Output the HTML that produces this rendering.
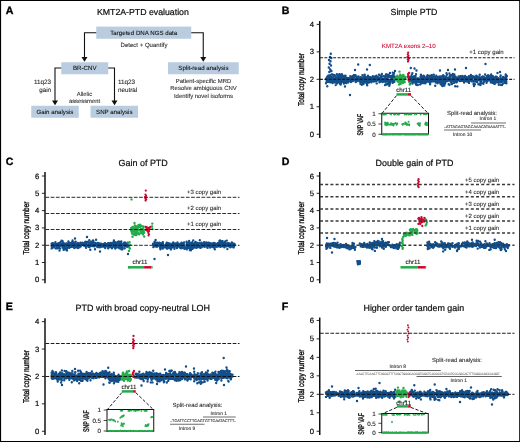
<!DOCTYPE html>
<html lang="en">
<head>
<meta charset="utf-8">
<title>KMT2A-PTD evaluation</title>
<style>
html,body{margin:0;padding:0;background:#fff;}
body{width:520px;height:442px;overflow:hidden;font-family:"Liberation Sans",sans-serif;}
svg{display:block;}
text{font-family:"Liberation Sans",sans-serif;text-rendering:geometricPrecision;}
</style>
</head>
<body>
<svg width="520" height="442" viewBox="0 0 520 442" font-family="'Liberation Sans', sans-serif">
<rect x="0" y="0" width="520" height="442" fill="#fff"/>
<text x="5.8" y="14.15" font-size="10.6" fill="#000" font-weight="bold" stroke="#000" stroke-width="0.35">A</text>
<text x="142.9" y="14.6" font-size="8.75" text-anchor="middle" fill="#0d0d0d" stroke="#0d0d0d" stroke-width="0.2">KMT2A-PTD evaluation</text>
<rect x="96.25" y="26.6" width="95" height="12.15" fill="#bacde0"/>
<text x="143.75" y="34.88" font-size="6.15" text-anchor="middle" fill="#111" stroke="#111" stroke-width="0.08">Targeted DNA NGS data</text>
<rect x="61.25" y="62.25" width="47" height="12" fill="#bacde0"/>
<text x="84.75" y="70.45" font-size="6.15" text-anchor="middle" fill="#111" stroke="#111" stroke-width="0.08">BR-CNV</text>
<rect x="168" y="62.25" width="70.75" height="12" fill="#bacde0"/>
<text x="203.38" y="70.45" font-size="6.15" text-anchor="middle" fill="#111" stroke="#111" stroke-width="0.08">Split-read analysis</text>
<rect x="31.25" y="105.75" width="47.5" height="12" fill="#bacde0"/>
<text x="55" y="113.95" font-size="6.15" text-anchor="middle" fill="#111" stroke="#111" stroke-width="0.08">Gain analysis</text>
<rect x="90.5" y="105.75" width="47.5" height="12" fill="#bacde0"/>
<text x="114.25" y="113.95" font-size="6.15" text-anchor="middle" fill="#111" stroke="#111" stroke-width="0.08">SNP analysis</text>
<path d="M96.25,32.75 H84.5 V58.75" fill="none" stroke="#111" stroke-width="1.1"/>
<path d="M81.5,56.95 L87.5,56.95 L84.5,61.75 Z" fill="#111"/>
<path d="M191.25,32.75 H203.25 V58.75" fill="none" stroke="#111" stroke-width="1.1"/>
<path d="M200.25,56.95 L206.25,56.95 L203.25,61.75 Z" fill="#111"/>
<path d="M61.25,68 H55 V102.25" fill="none" stroke="#111" stroke-width="1.1"/>
<path d="M52,100.45 L58,100.45 L55,105.25 Z" fill="#111"/>
<path d="M108.25,68 H114.5 V102.25" fill="none" stroke="#111" stroke-width="1.1"/>
<path d="M111.5,100.45 L117.5,100.45 L114.5,105.25 Z" fill="#111"/>
<text x="144" y="47" font-size="6.05" text-anchor="middle" fill="#2a2a2a" stroke="#2a2a2a" stroke-width="0.08">Detect + Quantify</text>
<text x="203.5" y="82.5" font-size="5.95" text-anchor="middle" fill="#2a2a2a" stroke="#2a2a2a" stroke-width="0.08">Patient-specific MRD</text>
<text x="203.5" y="90" font-size="5.95" text-anchor="middle" fill="#2a2a2a" stroke="#2a2a2a" stroke-width="0.08">Resolve ambiguous CNV</text>
<text x="203.5" y="97.5" font-size="5.95" text-anchor="middle" fill="#2a2a2a" stroke="#2a2a2a" stroke-width="0.08">Identify novel isoforms</text>
<text x="51.1" y="84.3" font-size="6.3" text-anchor="end" fill="#1a1a1a" stroke="#1a1a1a" stroke-width="0.08">11q23</text>
<text x="51.1" y="91.8" font-size="6.3" text-anchor="end" fill="#1a1a1a" stroke="#1a1a1a" stroke-width="0.08">gain</text>
<text x="118" y="84.3" font-size="6.3" fill="#1a1a1a" stroke="#1a1a1a" stroke-width="0.08">11q23</text>
<text x="118" y="91.8" font-size="6.3" fill="#1a1a1a" stroke="#1a1a1a" stroke-width="0.08">neutral</text>
<text x="84.5" y="95.5" font-size="5.85" text-anchor="middle" fill="#2a2a2a" stroke="#2a2a2a" stroke-width="0.08">Allelic</text>
<text x="84.5" y="103" font-size="5.85" text-anchor="middle" fill="#2a2a2a" stroke="#2a2a2a" stroke-width="0.08">assessment</text>
<text x="281.8" y="14.15" font-size="10.6" fill="#000" font-weight="bold" stroke="#000" stroke-width="0.35">B</text>
<text x="414" y="14.6" font-size="8.8" text-anchor="middle" fill="#0d0d0d" stroke="#0d0d0d" stroke-width="0.2">Simple PTD</text>
<line x1="319.75" y1="21" x2="319.75" y2="138" stroke="#0a0a0a" stroke-width="1.45"/>
<line x1="316.65" y1="134.25" x2="319.75" y2="134.25" stroke="#111" stroke-width="0.9"/>
<text x="314.15" y="136.75" font-size="7.7" text-anchor="end" fill="#000" stroke="#000" stroke-width="0.18">0</text>
<line x1="316.65" y1="106.78" x2="319.75" y2="106.78" stroke="#111" stroke-width="0.9"/>
<text x="314.15" y="109.28" font-size="7.7" text-anchor="end" fill="#000" stroke="#000" stroke-width="0.18">1</text>
<line x1="316.65" y1="79.31" x2="319.75" y2="79.31" stroke="#111" stroke-width="0.9"/>
<text x="314.15" y="81.81" font-size="7.7" text-anchor="end" fill="#000" stroke="#000" stroke-width="0.18">2</text>
<line x1="316.65" y1="51.84" x2="319.75" y2="51.84" stroke="#111" stroke-width="0.9"/>
<text x="314.15" y="54.34" font-size="7.7" text-anchor="end" fill="#000" stroke="#000" stroke-width="0.18">3</text>
<line x1="316.65" y1="24.37" x2="319.75" y2="24.37" stroke="#111" stroke-width="0.9"/>
<text x="314.15" y="26.87" font-size="7.7" text-anchor="end" fill="#000" stroke="#000" stroke-width="0.18">4</text>
<text transform="translate(303.6,79.5) rotate(-90) scale(0.76,1)" font-size="8.5" text-anchor="middle" fill="#0a0a0a" stroke="#0a0a0a" stroke-width="0.36">Total copy number</text>
<path d="M361.0 80.4h0M369.5 81.3h0M332.5 83.0h0M373.8 81.5h0M393.8 77.3h0M336.9 74.3h0M362.5 80.6h0M328.1 81.4h0M356.4 76.5h0M360.5 79.1h0M357.6 78.9h0M384.0 78.7h0M345.9 81.0h0M378.9 80.0h0M392.1 77.2h0M326.0 83.3h0M393.6 77.6h0M331.0 79.9h0M332.0 77.6h0M392.5 80.0h0M333.0 81.4h0M381.0 75.5h0M339.2 78.0h0M335.0 80.8h0M340.7 81.2h0M393.0 77.4h0M340.5 82.5h0M385.0 85.1h0M340.7 84.6h0M379.3 78.8h0M332.2 80.3h0M342.8 77.9h0M392.2 80.6h0M365.6 80.4h0M388.7 80.5h0M343.2 78.8h0M339.6 74.3h0M386.9 78.4h0M328.7 80.4h0M342.5 79.0h0M367.2 85.2h0M338.1 80.1h0M364.6 80.5h0M368.4 81.4h0M327.1 78.7h0M356.8 80.4h0M365.5 82.6h0M351.0 81.2h0M373.7 78.9h0M335.7 79.9h0M374.4 81.0h0M359.3 79.6h0M348.0 80.9h0M376.9 79.8h0M376.9 79.8h0M350.3 76.3h0M388.2 75.6h0M385.6 81.5h0M369.1 78.1h0M331.5 77.9h0M394.5 78.5h0M376.7 77.4h0M356.4 81.5h0M328.1 81.7h0M359.2 78.0h0M368.4 78.3h0M343.7 78.0h0M340.0 83.7h0M388.5 74.6h0M348.6 80.4h0M339.7 80.3h0M386.7 74.4h0M366.2 81.2h0M383.8 81.4h0M375.1 78.8h0M357.1 80.9h0M340.8 77.5h0M347.8 78.3h0M393.8 79.3h0M386.2 79.9h0M374.9 78.1h0M327.3 86.2h0M357.4 80.2h0M335.7 76.2h0M369.4 78.4h0M381.7 77.0h0M373.2 77.7h0M326.7 80.2h0M375.3 78.6h0M374.1 80.3h0M368.4 77.8h0M388.5 83.9h0M390.3 80.8h0M369.2 80.9h0M352.0 81.0h0M391.2 76.3h0M370.9 78.7h0M370.3 77.1h0M340.7 83.8h0M363.1 79.2h0M348.1 80.1h0M331.7 77.7h0M364.0 79.5h0M381.8 79.3h0M381.2 75.9h0M335.7 85.1h0M361.6 81.1h0M391.3 76.1h0M391.5 79.8h0M346.0 81.0h0M370.1 80.7h0M347.5 78.0h0M384.3 80.6h0M392.8 82.7h0M365.5 76.6h0M367.8 79.2h0M392.9 75.8h0M364.8 81.8h0M373.7 76.7h0M392.0 78.4h0M344.6 80.4h0M382.3 80.9h0M358.9 80.1h0M389.8 84.5h0M379.8 79.9h0M373.4 80.1h0M350.5 81.0h0M334.5 81.4h0M343.3 76.3h0M351.9 78.8h0M362.5 81.1h0M370.1 81.6h0M384.7 80.4h0M377.1 78.0h0M388.3 77.1h0M341.1 82.6h0M387.2 79.8h0M343.9 83.5h0M383.4 79.6h0M353.8 78.2h0M327.2 76.6h0M392.8 72.6h0M360.7 79.3h0M339.0 79.6h0M364.1 80.2h0M365.2 80.8h0M384.0 80.8h0M390.0 83.0h0M357.9 78.1h0M361.6 81.4h0M367.5 78.4h0M338.5 75.0h0M377.0 79.2h0M361.4 81.5h0M387.6 78.0h0M369.4 77.1h0M367.4 82.7h0M343.8 79.0h0M377.4 79.6h0M387.9 77.1h0M373.9 79.2h0M375.9 76.2h0M349.6 80.6h0M370.1 79.8h0M342.0 78.3h0M371.5 78.4h0M362.8 82.4h0M374.4 79.0h0M393.6 74.4h0M343.7 77.6h0M329.5 78.5h0M343.3 79.7h0M364.0 82.1h0M394.7 78.3h0M381.9 74.0h0M329.1 77.7h0M337.0 80.0h0M368.2 82.6h0M391.2 76.0h0M351.2 78.6h0M371.2 79.1h0M346.4 83.1h0M342.9 81.8h0M352.9 81.1h0M377.6 78.4h0M331.1 77.1h0M393.1 80.6h0M362.1 79.3h0M393.5 76.6h0M367.7 77.8h0M340.1 76.3h0M362.4 75.1h0M357.4 80.7h0M366.2 80.4h0M394.8 76.6h0M376.7 83.4h0M380.1 81.7h0M350.8 77.9h0M366.8 78.1h0M378.0 79.0h0M389.2 85.7h0M328.7 79.3h0M369.0 82.5h0M363.4 84.0h0M364.0 81.3h0M351.7 79.5h0M377.4 80.4h0M331.1 81.7h0M379.0 74.8h0M355.3 80.0h0M371.1 78.3h0M348.5 79.3h0M355.5 75.1h0M332.7 80.2h0M364.9 80.3h0M373.3 79.3h0M340.7 78.2h0M331.6 78.9h0M345.5 75.6h0M350.7 78.8h0M374.9 79.5h0M389.4 81.3h0M381.4 78.0h0M347.9 81.9h0M343.1 77.9h0M351.2 78.1h0M339.5 80.0h0M381.0 80.5h0M338.2 76.5h0M386.8 84.5h0M363.5 80.2h0M392.7 79.1h0M363.7 79.3h0M331.8 78.7h0M331.8 74.4h0M335.9 77.9h0M341.2 77.9h0M362.0 78.3h0M392.8 80.0h0M360.1 78.8h0M389.1 75.6h0M383.0 81.7h0M383.5 76.1h0M392.1 75.6h0M381.4 78.7h0M355.0 78.4h0M351.9 79.9h0M346.1 80.7h0M330.1 82.2h0M379.5 82.2h0M330.3 75.3h0M328.5 75.5h0M338.7 79.3h0M367.0 84.4h0M338.8 81.6h0M347.5 81.3h0M382.4 79.0h0M389.1 84.1h0M363.8 78.6h0M329.4 80.0h0M381.3 76.8h0M344.9 79.0h0M371.4 82.2h0M351.6 79.2h0M375.2 79.4h0M348.2 80.5h0M386.0 74.5h0M344.4 75.9h0M336.4 83.0h0M384.4 79.4h0M331.7 79.1h0M359.1 78.4h0M391.9 80.1h0M380.5 77.8h0M389.3 80.5h0M363.5 78.8h0M336.9 78.1h0M331.2 81.4h0M358.2 77.3h0M333.3 82.0h0M357.9 80.4h0M326.9 77.4h0M375.0 76.4h0M326.7 79.1h0M381.2 76.9h0M351.9 78.3h0M346.6 77.9h0M343.7 81.7h0M376.5 80.8h0M375.9 78.3h0M383.1 80.4h0M372.8 79.7h0M338.4 80.2h0M332.2 74.5h0M336.8 77.5h0M389.5 79.6h0M361.3 79.9h0M352.6 76.3h0M354.4 75.3h0M393.8 80.6h0M371.6 80.6h0M349.6 79.4h0M333.3 75.0h0M382.9 79.1h0M336.9 81.1h0M350.3 78.3h0M335.8 81.6h0M375.4 78.8h0M339.6 77.9h0M331.7 77.4h0M365.8 78.2h0M350.9 82.0h0M334.6 82.4h0M363.5 82.8h0M364.7 74.8h0M382.4 82.1h0M345.9 81.1h0M342.6 79.6h0M363.8 78.1h0M328.2 79.2h0M371.4 78.4h0M352.3 77.0h0M381.5 80.5h0M335.9 81.3h0M365.3 77.7h0M365.2 79.8h0M370.3 79.0h0M392.2 77.8h0M358.4 77.1h0M378.3 77.1h0M359.5 81.2h0M354.2 76.3h0M365.1 77.9h0M355.8 78.6h0M348.1 78.6h0M376.5 75.7h0M377.9 78.4h0M334.6 78.5h0M360.7 82.2h0M362.3 81.3h0M347.1 79.5h0M388.9 80.1h0M371.9 77.2h0M341.3 80.5h0M365.1 82.4h0M334.5 81.4h0M391.6 79.1h0M348.4 81.4h0M387.8 77.5h0M366.4 81.6h0M328.1 79.0h0M390.4 81.5h0M358.6 77.0h0M387.9 81.4h0M358.6 76.5h0M386.7 80.4h0M339.2 81.5h0M329.5 79.3h0M388.1 77.2h0M375.2 76.9h0M356.7 79.4h0M375.0 81.2h0M338.5 75.5h0M351.7 76.9h0M387.0 79.6h0M389.9 81.0h0M345.1 82.7h0M356.4 81.6h0M362.6 77.6h0M343.3 78.5h0M332.0 79.5h0M345.3 78.3h0M338.9 79.3h0M357.9 79.0h0M352.5 78.1h0M364.4 79.9h0M350.8 79.6h0M360.9 77.3h0M373.2 80.0h0M379.8 78.4h0M368.0 75.6h0M380.3 80.3h0M342.3 79.5h0M360.4 83.8h0M367.2 77.2h0M338.4 75.5h0M327.2 77.9h0M344.1 79.9h0M331.0 76.9h0M380.6 77.3h0M336.1 80.7h0M368.9 80.2h0M344.3 81.6h0M337.8 82.5h0M337.0 80.7h0M330.2 76.1h0M351.1 79.9h0M359.8 79.2h0M394.0 73.3h0M328.7 81.7h0M387.4 76.5h0M355.3 80.5h0M328.4 80.2h0M341.9 74.2h0M364.1 81.7h0M351.1 81.1h0M328.7 79.5h0M370.8 77.5h0M385.6 82.4h0M387.2 75.7h0M352.3 80.8h0M340.9 79.8h0M337.3 83.3h0M340.8 78.2h0M394.5 80.7h0M385.5 78.2h0M373.7 79.5h0M344.9 80.1h0M353.1 80.1h0M375.3 78.0h0M390.6 80.0h0M378.8 79.3h0M348.2 79.2h0M331.7 77.6h0M361.8 84.7h0M353.2 80.5h0M367.1 80.4h0M347.5 78.7h0M374.8 78.6h0M376.1 79.5h0M345.3 80.1h0M354.0 79.7h0M346.2 78.7h0M340.9 83.4h0M365.0 80.3h0M393.3 74.9h0M340.9 75.5h0M372.0 80.0h0M369.6 78.4h0M355.5 80.5h0M348.6 79.8h0M345.3 77.1h0M337.5 80.2h0M342.5 77.5h0M336.4 80.8h0M374.4 79.0h0M353.0 78.7h0M330.3 82.2h0M366.4 80.6h0M348.5 81.5h0M387.5 79.7h0M344.1 79.9h0M368.5 81.4h0M351.0 81.4h0M369.3 78.9h0M354.4 78.5h0M386.7 83.8h0M388.8 82.6h0M347.3 80.6h0M393.4 79.7h0M372.9 80.9h0M326.1 78.8h0M360.1 80.2h0M363.8 76.8h0M392.8 77.4h0M349.9 78.5h0M374.0 81.1h0M392.5 80.4h0M359.9 81.5h0M351.5 79.1h0M342.4 75.5h0M348.4 78.2h0M330.4 79.5h0M333.1 81.2h0M379.3 80.3h0M337.2 79.3h0M343.5 78.9h0M381.0 78.8h0M375.4 77.9h0M349.0 80.7h0M365.2 77.3h0M374.8 80.3h0M334.6 75.3h0M372.2 79.5h0M366.4 80.3h0M393.0 77.4h0M369.6 78.4h0M390.4 82.5h0M334.2 81.1h0M345.7 80.1h0M348.8 79.3h0M363.4 78.8h0M381.2 80.4h0M345.6 77.7h0M393.7 76.5h0M373.9 79.3h0M338.1 76.8h0M390.4 77.0h0M348.3 79.5h0M365.0 78.3h0M341.7 78.1h0M351.2 80.0h0M387.6 79.6h0M331.4 81.0h0M340.0 76.9h0M381.7 79.4h0M330.0 78.0h0M345.1 77.7h0M385.7 75.2h0M376.0 80.7h0M327.8 81.1h0M350.8 79.6h0M347.4 80.3h0M392.2 79.1h0M362.4 80.5h0M353.5 76.5h0M383.1 80.3h0M391.6 78.9h0M374.7 79.5h0M365.8 79.7h0M352.8 77.5h0M351.2 77.0h0M350.4 81.0h0M332.5 78.2h0M377.2 78.8h0M372.9 76.2h0M333.3 76.5h0M326.7 81.7h0M353.8 75.2h0M340.1 77.8h0M348.1 82.4h0M355.7 82.1h0M341.2 78.7h0M344.9 78.5h0M391.4 79.8h0M394.3 81.8h0M369.8 79.1h0M368.5 79.1h0M385.1 76.4h0M333.9 79.0h0M447.0 74.6h0M459.7 77.9h0M470.7 76.8h0M500.3 76.7h0M455.2 79.6h0M481.3 78.0h0M448.7 84.2h0M457.4 86.4h0M491.4 81.9h0M487.3 78.1h0M506.4 83.3h0M433.9 77.3h0M453.8 80.5h0M436.8 78.6h0M416.7 80.2h0M433.1 77.3h0M492.9 76.2h0M487.2 77.4h0M445.2 83.0h0M493.8 80.1h0M420.9 74.7h0M469.7 80.8h0M416.5 80.4h0M495.0 82.3h0M428.7 78.5h0M442.6 79.6h0M470.9 74.9h0M427.1 76.1h0M477.1 80.0h0M501.3 80.6h0M444.4 85.5h0M481.3 79.3h0M439.8 81.0h0M450.9 81.8h0M449.4 73.5h0M443.3 79.2h0M432.4 78.1h0M437.4 82.5h0M475.5 80.9h0M482.0 78.7h0M453.2 76.8h0M452.5 80.3h0M438.1 78.9h0M449.6 76.3h0M496.8 77.0h0M489.5 79.7h0M467.1 81.5h0M418.1 82.1h0M446.0 78.1h0M497.0 78.3h0M411.8 78.0h0M454.8 80.1h0M474.9 84.2h0M506.3 77.9h0M490.3 77.7h0M416.0 74.2h0M448.6 80.6h0M429.9 83.0h0M423.4 79.4h0M425.8 78.3h0M470.2 78.7h0M480.8 82.3h0M421.2 83.5h0M501.6 80.1h0M411.9 77.6h0M420.3 79.3h0M438.9 81.0h0M422.1 82.7h0M459.4 80.3h0M449.9 76.0h0M430.7 77.2h0M492.4 78.4h0M492.4 82.8h0M449.1 78.6h0M493.7 79.5h0M424.5 79.4h0M481.1 80.4h0M412.3 81.9h0M438.8 77.4h0M414.0 77.2h0M417.1 85.1h0M441.6 82.4h0M473.3 81.3h0M458.3 79.3h0M448.0 78.9h0M445.4 77.5h0M456.0 78.0h0M414.3 80.2h0M415.5 78.1h0M431.2 77.9h0M445.8 77.5h0M482.6 79.3h0M410.4 79.4h0M467.4 78.8h0M445.1 77.9h0M468.9 79.8h0M440.2 76.5h0M414.7 79.1h0M434.1 79.7h0M493.4 78.0h0M437.4 83.2h0M490.6 81.3h0M440.4 80.2h0M415.0 77.4h0M414.2 76.2h0M471.8 76.5h0M500.6 79.6h0M481.3 79.3h0M475.8 79.9h0M485.7 78.8h0M482.8 77.7h0M421.0 80.4h0M481.1 83.4h0M474.5 81.5h0M420.5 76.7h0M464.1 82.5h0M430.1 75.9h0M421.5 78.9h0M455.6 76.8h0M475.3 80.0h0M457.6 77.8h0M419.8 81.9h0M425.7 79.5h0M425.5 80.7h0M467.2 77.4h0M491.6 80.6h0M466.4 80.2h0M477.5 79.0h0M435.0 78.1h0M415.8 79.1h0M446.3 76.2h0M464.1 80.1h0M498.2 78.4h0M482.9 79.4h0M439.4 82.1h0M464.9 79.7h0M442.0 85.4h0M488.1 77.8h0M485.9 79.9h0M469.0 82.2h0M484.1 81.7h0M476.7 76.9h0M502.2 78.4h0M480.4 85.0h0M433.8 77.1h0M438.1 78.9h0M422.3 79.4h0M436.6 80.5h0M494.7 83.9h0M468.9 76.3h0M481.1 77.4h0M485.1 74.5h0M414.8 77.8h0M432.3 80.6h0M445.6 81.8h0M464.7 78.6h0M432.1 81.3h0M473.6 84.1h0M497.4 78.2h0M505.9 78.6h0M494.5 79.2h0M412.4 78.9h0M505.3 81.6h0M460.3 76.3h0M460.9 77.5h0M458.2 79.5h0M478.2 78.7h0M457.0 80.0h0M504.3 80.6h0M442.2 80.8h0M501.0 84.9h0M493.2 78.5h0M411.5 77.5h0M469.2 77.4h0M500.5 78.5h0M412.6 83.6h0M411.8 74.8h0M490.4 77.4h0M483.3 78.9h0M409.6 80.9h0M490.8 75.5h0M442.2 83.0h0M435.1 79.3h0M460.8 79.1h0M432.4 77.4h0M426.6 78.9h0M485.9 80.5h0M432.7 78.7h0M434.4 80.7h0M427.5 78.0h0M480.3 80.8h0M486.6 80.9h0M433.3 80.8h0M449.9 77.6h0M498.3 81.5h0M447.2 81.0h0M442.5 76.0h0M446.5 73.3h0M455.9 78.2h0M410.8 78.9h0M498.7 81.0h0M429.5 82.0h0M442.8 78.2h0M423.3 80.6h0M422.7 79.2h0M495.5 81.9h0M445.8 77.8h0M436.1 80.1h0M443.4 80.5h0M439.4 82.3h0M462.2 80.8h0M483.8 79.7h0M431.2 78.3h0M439.7 81.4h0M425.1 78.2h0M464.9 81.0h0M454.3 74.5h0M492.0 80.7h0M504.8 79.5h0M414.6 76.7h0M426.4 79.1h0M430.9 78.9h0M458.2 79.0h0M411.0 79.4h0M413.6 77.6h0M455.6 78.6h0M440.4 81.3h0M450.2 77.1h0M454.4 80.9h0M500.7 78.9h0M495.5 79.3h0M437.6 79.0h0M466.4 77.1h0M501.9 85.0h0M443.3 81.3h0M458.0 78.4h0M409.7 79.1h0M435.7 78.1h0M418.3 78.4h0M456.5 81.3h0M452.7 78.8h0M487.5 81.0h0M434.3 76.8h0M458.6 76.4h0M457.3 78.6h0M437.8 78.0h0M428.7 78.7h0M490.8 82.4h0M476.3 78.8h0M478.9 79.8h0M488.9 78.3h0M433.3 80.5h0M443.0 79.8h0M469.0 80.9h0M415.8 78.7h0M420.2 80.9h0M427.6 77.8h0M483.4 78.6h0M480.4 78.3h0M494.1 80.5h0M465.0 76.4h0M471.8 77.6h0M411.7 80.8h0M487.1 76.7h0M477.2 76.8h0M440.3 81.4h0M476.4 81.8h0M441.7 80.9h0M502.3 78.5h0M503.3 78.4h0M460.4 80.8h0M413.0 77.8h0M482.1 78.6h0M428.9 78.8h0M416.3 82.4h0M444.1 82.4h0M449.9 78.1h0M432.4 79.4h0M451.7 79.0h0M483.8 77.0h0M497.5 73.0h0M462.3 78.7h0M484.2 78.8h0M424.2 78.9h0M480.4 82.0h0M484.3 78.7h0M451.7 75.0h0M455.8 80.3h0M416.4 79.1h0M477.2 80.7h0M465.4 80.2h0M448.8 77.7h0M414.0 77.6h0M422.0 79.0h0M416.6 79.8h0M455.2 86.2h0M456.9 79.0h0M440.3 80.7h0M431.0 79.5h0M459.1 77.4h0M434.6 80.7h0M478.5 78.2h0M453.7 81.2h0M470.3 77.8h0M453.9 82.9h0M495.3 77.0h0M504.7 82.7h0M448.6 79.0h0M480.1 78.0h0M473.4 76.5h0M431.5 79.5h0M462.1 78.5h0M411.1 81.0h0M484.2 77.8h0M448.3 78.0h0M428.7 80.6h0M489.6 79.8h0M447.6 78.2h0M482.3 76.8h0M434.0 77.3h0M505.7 77.1h0M485.6 78.5h0M436.3 75.7h0M461.0 80.8h0M496.6 82.4h0M437.7 78.6h0M468.6 79.2h0M461.2 76.6h0M443.9 77.0h0M416.8 78.8h0M490.3 77.2h0M436.2 78.9h0M446.0 79.1h0M424.0 82.3h0M433.8 74.8h0M421.0 81.3h0M435.3 76.9h0M477.3 82.1h0M430.1 76.0h0M477.7 80.3h0M455.7 78.9h0M452.6 76.7h0M505.7 76.7h0M431.2 80.8h0M442.8 83.8h0M451.5 82.2h0M426.2 77.7h0M478.4 84.2h0M431.6 76.8h0M431.8 80.8h0M415.6 80.4h0M462.5 79.9h0M443.9 79.7h0M468.0 79.5h0M411.5 79.5h0M426.7 76.6h0M440.9 77.0h0M437.7 78.5h0M433.8 80.8h0M434.9 77.8h0M435.7 82.4h0M492.0 78.1h0M496.0 79.8h0M470.2 78.0h0M449.8 76.6h0M458.7 78.1h0M486.4 78.7h0M431.3 78.5h0M487.1 79.3h0M437.3 83.0h0M476.2 76.7h0M482.1 77.7h0M495.3 81.3h0M498.9 81.5h0M504.2 80.1h0M459.7 81.1h0M506.1 75.3h0M506.3 81.4h0M471.9 81.4h0M464.3 77.1h0M467.2 79.9h0M426.4 81.0h0M430.6 77.4h0M462.5 77.9h0M411.2 77.7h0M473.5 84.1h0M442.1 81.0h0M464.0 78.1h0M488.9 78.3h0M483.4 83.7h0M423.2 80.8h0M412.4 73.1h0M440.8 80.9h0M490.2 76.9h0M500.7 75.4h0M464.4 79.7h0M479.2 77.3h0M457.8 80.0h0M499.0 81.8h0M415.9 79.9h0M491.8 80.6h0M505.0 77.6h0M479.4 78.2h0M415.2 78.1h0M414.3 81.7h0M505.3 78.5h0M467.3 79.6h0M427.1 76.1h0M464.6 79.2h0M428.0 81.6h0M412.8 81.7h0M455.1 77.4h0M483.7 77.6h0M414.5 80.1h0M413.2 80.6h0M495.0 80.3h0M492.0 79.7h0M498.8 82.5h0M428.1 80.3h0M429.1 79.1h0M461.7 80.4h0M424.1 77.6h0M455.7 79.7h0M469.5 78.5h0M496.1 80.2h0M447.7 80.3h0M446.9 78.7h0M445.8 79.8h0M437.2 78.9h0M482.6 78.2h0M427.6 75.3h0M492.7 82.9h0M481.7 82.1h0M444.8 84.0h0M465.8 78.3h0M506.9 75.9h0M423.5 75.6h0M464.5 79.4h0M470.8 77.7h0M441.0 80.3h0M493.1 81.2h0M435.1 78.8h0M492.3 77.8h0M463.8 79.4h0M409.7 79.2h0M436.3 78.9h0M479.3 78.6h0M456.4 82.4h0M450.5 74.9h0M448.3 79.0h0M476.3 75.6h0M485.8 79.5h0M425.3 83.3h0M449.9 78.5h0M475.3 76.8h0M415.2 82.7h0M489.9 79.5h0M462.9 79.1h0M472.1 80.0h0M431.9 79.2h0M461.3 80.5h0M468.3 78.3h0M474.9 80.0h0M495.7 76.6h0M475.5 77.4h0M437.5 78.2h0M410.5 78.1h0M435.2 77.4h0M415.2 79.4h0M468.7 81.6h0M437.8 79.2h0M458.8 77.2h0M456.7 82.3h0M456.3 80.4h0M448.5 79.1h0M475.6 81.3h0M468.2 80.1h0M452.8 74.0h0M430.3 82.7h0M495.9 80.6h0M496.3 80.8h0M415.8 80.1h0M468.5 81.8h0M500.7 82.3h0M420.1 84.4h0M473.1 81.6h0M429.6 75.9h0M468.3 77.7h0M429.8 81.8h0M416.7 82.0h0M440.7 78.7h0M497.6 82.4h0M423.1 80.1h0M502.1 79.6h0M440.5 83.8h0M482.0 78.5h0M477.4 81.0h0M454.7 81.5h0M490.1 79.6h0M472.3 78.1h0M504.5 80.3h0M422.0 77.5h0M484.6 78.0h0M495.0 77.6h0M446.0 81.1h0M445.2 78.0h0M492.1 80.6h0M475.4 77.2h0M434.0 80.2h0M419.3 81.2h0M446.4 77.5h0M423.4 80.1h0M434.3 78.6h0M431.5 77.7h0M429.2 81.1h0M450.9 79.1h0M471.8 78.4h0M441.3 80.5h0M486.7 79.3h0M411.0 78.3h0M412.9 78.6h0M444.0 76.2h0M494.1 82.8h0M421.8 81.7h0M419.0 82.1h0M449.5 84.7h0M497.0 79.9h0M483.4 76.7h0M474.8 80.1h0M461.2 77.6h0M476.7 79.1h0M486.4 79.6h0M414.1 80.3h0M503.0 77.0h0M464.5 80.3h0M485.4 80.4h0M409.6 77.3h0M418.6 81.1h0M484.5 79.5h0M474.5 77.9h0M454.6 79.4h0M475.4 80.7h0M461.5 80.4h0M409.8 79.8h0M425.0 77.7h0M504.8 79.5h0M500.9 81.6h0M432.0 79.3h0M498.2 81.4h0M433.0 79.7h0M479.7 77.7h0M455.1 80.6h0M453.9 79.2h0M464.8 77.0h0M413.9 79.2h0M417.3 80.1h0M501.4 81.7h0M445.4 79.6h0M422.9 80.5h0M426.7 76.4h0M411.0 79.5h0M486.6 82.7h0M427.9 79.1h0M439.0 76.7h0M444.1 79.8h0M488.5 78.0h0M468.1 79.7h0M506.2 78.1h0M488.0 78.2h0M491.3 80.8h0M429.4 79.9h0M414.4 77.1h0M438.0 81.4h0M489.4 78.0h0M433.4 78.3h0M415.6 81.4h0M449.7 76.7h0M437.9 81.6h0M475.3 77.4h0M435.8 79.3h0M438.4 80.0h0M456.4 80.4h0M495.2 77.7h0M411.8 80.3h0M486.1 77.8h0M482.7 79.3h0M486.8 80.6h0M475.2 77.3h0M461.5 77.2h0M493.2 78.7h0M482.8 76.6h0M414.3 77.6h0M446.1 80.7h0M423.6 81.5h0M457.2 78.7h0M410.2 83.7h0M481.0 79.6h0M417.4 78.4h0M480.8 82.6h0M412.8 78.7h0M442.5 86.0h0M421.6 76.8h0M436.2 80.2h0M449.5 80.5h0M451.9 84.1h0M498.0 78.2h0M431.8 75.2h0M468.6 79.3h0M506.2 80.0h0M429.9 78.7h0M491.5 79.5h0M486.2 80.0h0M435.2 85.8h0M479.4 78.5h0M482.3 78.1h0M460.7 79.8h0M441.1 82.6h0M430.1 84.2h0M503.1 83.5h0M492.2 78.1h0M464.8 78.7h0M491.2 74.4h0M415.5 76.2h0M506.1 79.4h0M475.4 78.6h0M471.9 75.9h0M497.3 80.8h0M429.5 77.1h0M475.9 79.4h0M448.3 79.4h0M431.6 75.3h0M498.5 81.7h0M411.5 77.6h0M469.3 77.1h0M442.6 78.8h0M475.9 78.7h0M474.6 80.8h0M488.7 75.9h0M454.3 75.8h0M493.6 78.1h0M444.9 82.1h0M505.6 76.3h0M492.6 81.3h0M497.0 79.9h0M410.6 76.8h0M448.0 78.4h0M439.3 78.8h0M421.6 76.7h0M442.6 81.2h0M428.6 78.8h0M438.9 79.8h0M437.9 78.2h0M461.6 79.4h0M443.6 82.1h0M477.8 76.6h0M494.0 80.6h0M482.4 79.5h0M506.0 80.6h0M470.4 80.6h0M422.6 78.1h0M505.1 79.0h0M416.3 79.6h0M439.0 80.7h0M440.7 84.3h0M496.2 76.6h0M434.2 80.5h0M416.9 81.9h0M502.0 78.5h0M409.6 77.7h0M415.4 80.4h0M453.0 75.4h0M477.7 78.2h0M475.6 78.3h0M441.6 76.5h0M465.9 77.9h0M437.5 79.2h0M443.6 78.4h0M409.6 79.8h0M482.8 78.8h0M425.4 78.5h0M469.2 80.1h0M432.2 78.2h0M423.9 76.0h0M445.4 79.3h0M440.1 78.7h0M412.4 79.2h0M494.7 79.1h0M476.5 78.0h0M480.4 83.7h0M498.8 84.8h0M462.3 76.0h0M416.0 84.5h0M413.6 79.1h0M444.2 80.7h0M451.8 78.8h0M461.6 78.8h0M452.6 79.1h0M433.3 81.4h0M486.8 76.3h0M479.2 78.7h0M477.2 80.6h0M436.9 81.0h0M418.2 79.3h0M421.3 80.0h0M492.3 76.0h0M426.1 82.2h0M501.3 81.9h0M417.6 79.8h0M468.6 80.5h0M422.8 82.7h0M467.4 79.7h0M422.9 76.2h0M423.5 83.1h0M476.0 79.9h0M457.1 81.5h0M488.1 75.2h0M443.2 79.8h0M505.7 74.4h0M451.5 83.0h0M495.5 79.3h0M436.0 81.2h0M502.4 81.0h0M423.7 81.3h0M417.3 80.6h0M489.2 80.0h0M452.5 76.0h0M486.4 78.4h0M454.2 80.7h0M421.2 78.1h0M490.2 79.5h0M494.0 80.5h0M491.4 80.3h0M472.5 80.1h0M451.6 79.8h0M501.5 79.6h0M464.0 79.8h0M500.2 80.1h0M412.3 79.5h0M494.4 83.9h0M433.5 79.0h0M498.4 79.4h0M437.7 81.5h0M434.7 77.7h0M443.2 75.3h0M466.3 77.6h0M420.6 77.5h0M469.0 82.9h0M423.3 81.4h0M436.1 81.7h0M490.9 78.2h0M468.4 77.3h0M441.1 77.8h0M465.1 76.0h0M479.7 74.7h0M412.2 76.9h0M462.8 80.6h0M468.6 77.9h0M463.4 76.6h0M421.5 83.2h0M438.1 76.9h0M460.0 81.0h0M417.8 84.9h0M436.7 79.7h0M460.5 80.8h0M472.2 77.4h0M469.2 76.4h0M454.7 80.4h0M466.6 81.3h0M469.6 78.9h0M445.8 77.3h0M330.8 53.8h0M330.0 57.0h0M331.3 58.0h0M329.0 60.0h0M330.5 61.3h0M329.5 63.8h0M331.0 65.5h0M328.8 67.5h0M330.2 69.5h0M329.3 72.0h0M331.4 71.0h0M350.0 95.0h0M358.2 64.5h0M369.8 65.0h0M367.0 69.5h0M485.5 64.0h0M410.8 68.0h0M414.5 68.5h0M416.5 70.5h0M448.0 70.0h0M466.0 68.0h0M455.0 69.5h0M500.0 72.0h0M345.0 86.5h0M474.0 86.0h0M440.0 70.5h0M355.0 70.0h0M395.0 71.0h0M390.0 73.0h0" fill="none" stroke="#124e8a" stroke-width="2.4" stroke-linecap="round"/>
<path d="M403.2 78.9h0M405.5 77.0h0M402.1 79.8h0M399.6 80.0h0M401.7 79.8h0M400.1 74.9h0M403.3 75.0h0M401.3 76.0h0M402.5 77.8h0M402.6 78.8h0M400.6 83.9h0M397.3 75.7h0M397.3 79.1h0M404.8 82.1h0M401.0 81.1h0M404.5 79.4h0M400.3 78.2h0M402.2 77.1h0M399.3 80.0h0M400.2 80.7h0M401.2 78.0h0M401.8 77.1h0M399.0 84.5h0M398.4 77.9h0M401.3 80.2h0M402.3 78.5h0M400.7 78.9h0M398.0 81.6h0M400.2 74.7h0M398.4 81.9h0M404.0 80.6h0M399.1 78.7h0M398.2 78.4h0M402.7 75.3h0M398.3 81.4h0M404.6 77.0h0M400.2 75.2h0M401.0 82.4h0M403.3 75.9h0M396.6 80.1h0M396.1 79.3h0M404.1 79.2h0M397.4 80.3h0M400.8 79.8h0M397.3 78.8h0M400.7 80.5h0M405.1 78.1h0M399.5 76.8h0M398.4 79.8h0M401.7 81.8h0M397.5 81.0h0M400.9 78.3h0M402.8 76.8h0M401.7 79.5h0M397.4 80.7h0M396.5 78.3h0M396.0 78.0h0M396.5 76.9h0M398.3 78.7h0M403.6 77.3h0M402.7 80.1h0M401.2 76.5h0M402.9 83.0h0M403.7 81.0h0M400.9 80.6h0M397.5 76.4h0M405.4 78.2h0M400.1 83.2h0M403.6 75.5h0M396.9 79.6h0M399.5 71.6h0M409.3 82.0h0M409.8 84.6h0M393.8 79.0h0" fill="none" stroke="#25ab4b" stroke-width="2.4" stroke-linecap="round"/>
<path d="M409.2 73.0h0M408.1 73.9h0M408.2 75.2h0M408.9 76.6h0M407.9 77.0h0M408.6 78.3h0M408.5 80.0h0M409.0 80.7h0M408.2 52.6h0M407.8 54.4h0M408.5 55.8h0M407.6 57.0h0M408.3 57.8h0M408.9 58.6h0M407.9 59.4h0M408.4 60.5h0M408.0 61.6h0" fill="none" stroke="#cb0a32" stroke-width="2.3" stroke-linecap="round"/>
<line x1="320" y1="57.75" x2="514.5" y2="57.75" stroke="#1a1a1a" stroke-width="1.15" stroke-dasharray="2.9 1.5"/>
<line x1="320" y1="79.31" x2="514.5" y2="79.31" stroke="#1a1a1a" stroke-width="1.15" stroke-dasharray="2.9 1.5"/>
<text x="381.75" y="47.5" font-size="6.2" fill="#cb0a32" stroke="#cb0a32" stroke-width="0.08">KMT2A exons 2&#8211;10</text>
<text x="469.25" y="53.75" font-size="6.05" fill="#2a2a2a" stroke="#2a2a2a" stroke-width="0.08">+1 copy gain</text>
<text x="403.7" y="92.3" font-size="6.2" text-anchor="middle" fill="#1a1a1a" stroke="#1a1a1a" stroke-width="0.12">chr11</text>
<rect x="396.5" y="93.15" width="11" height="2.5" fill="#25ab4b"/>
<rect x="407.5" y="93.15" width="3.5" height="2.5" fill="#cb0a32"/>
<line x1="396.5" y1="95.6" x2="381.75" y2="113.75" stroke="#1a1a1a" stroke-width="1" stroke-dasharray="3.2 1.8"/>
<line x1="411" y1="95.6" x2="428.5" y2="113.75" stroke="#1a1a1a" stroke-width="1" stroke-dasharray="3.2 1.8"/>
<rect x="381.75" y="113.25" width="46.75" height="21.3" fill="#fff" stroke="#111" stroke-width="1"/>
<path d="M415.0 134.2h0M407.6 133.9h0M410.0 134.4h0M425.6 134.2h0M389.6 134.3h0M400.5 134.4h0M388.7 134.2h0M399.2 133.9h0M412.7 133.9h0M385.6 134.0h0M403.7 133.9h0M406.4 134.0h0M417.5 134.1h0M403.4 134.3h0M401.2 134.4h0M422.6 134.5h0M409.1 133.9h0M393.8 134.3h0M410.1 134.2h0M390.3 134.5h0M422.8 134.1h0M405.5 133.9h0M417.4 134.4h0M402.9 134.2h0M396.8 134.4h0M393.1 134.4h0M399.1 133.9h0M412.2 134.2h0M385.9 134.5h0M418.5 134.0h0M412.3 134.0h0M398.3 134.3h0M423.5 134.5h0M392.7 134.1h0M412.7 134.5h0M394.2 133.9h0M404.3 134.1h0M408.4 134.5h0M406.2 134.4h0M409.8 134.5h0M384.6 134.5h0M392.9 134.5h0M421.4 134.2h0M409.0 134.0h0M398.5 134.3h0M416.6 134.0h0M383.7 134.2h0M419.8 133.9h0M412.5 134.1h0M416.4 134.3h0M425.8 134.3h0M386.6 133.9h0M400.0 134.1h0M396.3 134.0h0M400.7 133.9h0M394.5 134.0h0M422.5 134.3h0M424.1 134.5h0M390.2 134.2h0M399.1 134.1h0M382.8 134.4h0M418.7 133.9h0M411.3 134.0h0M393.2 134.3h0M408.7 134.4h0M394.9 134.1h0M398.4 134.0h0M420.0 134.3h0M419.9 134.3h0M410.8 134.3h0M396.3 134.0h0M414.1 134.1h0M413.1 134.5h0M386.1 133.9h0M389.8 134.2h0M399.5 133.9h0M400.2 134.4h0M412.3 134.2h0M414.9 134.2h0M428.0 134.2h0M409.9 134.2h0M425.2 134.2h0M382.9 134.2h0M404.3 134.1h0M406.2 134.1h0M403.8 134.1h0M400.1 134.4h0M407.3 134.5h0M408.8 134.4h0M386.9 134.5h0M412.3 134.0h0M404.8 134.0h0M414.5 134.4h0M426.9 134.5h0M415.9 134.4h0M399.8 134.4h0M383.7 134.2h0M423.4 134.3h0M421.7 134.2h0M386.1 134.3h0M395.6 133.9h0M396.9 134.5h0M406.0 133.9h0M412.1 134.0h0M390.8 134.2h0M392.1 134.2h0M391.0 134.0h0M423.6 133.9h0M393.9 134.5h0M424.7 134.0h0M412.0 134.2h0M426.1 134.0h0M416.5 134.3h0M390.9 134.1h0M418.8 134.3h0M427.4 134.4h0M411.1 134.1h0M421.3 134.3h0M394.2 134.4h0M414.4 134.0h0M382.9 134.0h0M427.0 134.4h0M399.6 134.0h0M394.7 133.9h0M426.7 134.5h0M408.7 134.4h0M405.4 134.5h0M401.2 134.0h0M409.2 134.5h0M402.5 134.2h0M417.6 134.1h0M410.7 134.5h0M390.2 134.3h0M426.0 134.4h0M424.2 134.1h0M397.1 133.9h0M418.3 133.9h0M426.0 133.9h0M420.0 134.0h0M398.8 134.2h0M383.8 134.3h0M404.8 134.2h0M396.4 134.0h0M408.5 134.0h0M409.1 134.3h0M391.3 134.2h0M416.4 134.0h0M418.9 134.2h0M418.6 134.1h0M398.5 133.9h0M424.3 134.3h0M417.1 134.2h0M398.0 134.1h0M393.5 134.1h0M396.1 133.9h0M399.8 134.4h0M421.1 134.5h0M404.0 134.3h0M425.7 134.5h0M413.3 133.9h0M416.0 134.2h0M425.4 134.5h0M386.7 134.4h0M418.1 134.3h0M409.7 134.3h0M402.2 134.1h0M400.7 133.9h0M387.2 134.5h0M393.3 134.3h0M400.7 134.1h0M407.9 134.5h0M409.8 134.4h0M386.4 134.3h0M424.9 134.3h0M400.1 134.0h0M385.7 133.9h0M405.0 134.4h0M414.5 133.9h0M389.0 134.1h0M386.8 134.5h0M414.2 134.5h0M390.8 134.3h0M390.6 134.2h0M408.6 133.9h0M393.4 133.9h0M422.0 134.4h0M418.4 134.3h0M407.7 134.0h0M404.6 134.0h0M408.9 133.9h0M426.1 134.0h0M401.8 134.1h0M396.6 133.9h0M404.4 133.9h0M397.0 134.4h0M422.8 134.2h0M398.6 134.4h0M398.5 134.4h0M419.2 134.4h0M387.7 134.4h0M404.2 134.4h0M409.7 134.5h0M414.0 134.4h0M424.3 134.3h0M406.8 134.5h0M393.3 133.9h0M392.6 134.1h0M382.6 134.0h0M405.2 134.4h0M387.6 134.3h0M386.7 134.3h0M405.5 134.2h0M394.3 134.4h0M419.1 134.5h0M427.4 133.9h0M419.7 134.5h0M409.5 134.5h0M415.4 134.3h0M385.5 133.9h0M410.5 134.4h0M405.4 134.1h0M418.5 134.5h0M420.9 134.1h0M426.0 134.4h0M396.2 134.5h0M394.3 134.2h0M399.3 133.9h0M413.7 134.4h0M421.9 133.9h0M398.9 134.2h0M383.6 134.5h0M389.2 134.5h0M405.6 134.4h0M407.3 134.5h0M418.4 134.2h0M409.7 133.9h0M415.5 133.9h0M385.3 134.0h0M408.6 134.3h0M411.9 134.5h0M405.9 134.3h0M421.0 134.3h0M426.0 133.9h0M392.1 134.5h0M383.2 134.4h0M401.6 134.3h0M394.7 134.2h0M387.5 134.3h0M427.7 134.1h0M406.6 133.9h0M423.4 134.2h0M412.3 134.5h0M417.1 134.2h0M416.1 134.1h0M383.8 134.1h0M420.6 134.2h0M404.0 134.3h0M420.3 134.2h0M386.3 134.2h0M387.4 133.9h0" fill="none" stroke="#25ab4b" stroke-width="2" stroke-linecap="round"/>
<path d="M383.2 114.6h0M383.3 114.8h0M397.6 114.3h0M383.0 114.4h0M408.5 114.5h0M398.3 114.8h0M382.7 114.8h0M394.3 114.3h0M408.9 114.3h0M394.1 114.3h0M404.9 114.5h0M397.5 114.3h0M397.1 114.7h0M404.5 114.8h0M395.3 114.5h0M384.2 114.8h0M390.4 114.3h0M382.6 114.4h0M409.3 114.3h0M406.5 114.7h0M420.8 114.6h0M383.9 114.8h0M399.2 114.7h0M385.3 114.6h0M425.4 114.5h0M385.9 114.7h0M411.1 114.5h0M395.0 114.7h0M410.0 114.5h0M409.5 114.6h0M408.4 114.4h0M391.3 114.8h0M408.0 114.5h0M423.6 114.5h0M410.3 114.8h0M386.0 114.3h0M405.7 114.3h0M410.2 114.7h0M408.6 114.8h0M382.9 114.5h0M420.5 114.8h0M385.6 114.4h0M414.7 114.6h0M398.5 114.8h0M424.3 114.3h0M414.9 114.7h0M393.7 114.4h0M382.7 114.4h0M411.6 114.6h0M426.8 114.5h0M384.9 114.6h0M416.5 114.4h0M411.3 114.3h0M394.6 114.7h0M404.7 114.7h0" fill="none" stroke="#25ab4b" stroke-width="1.5" stroke-linecap="round"/>
<path d="M426.0 124.8h0M407.4 124.6h0M392.2 123.7h0M403.3 123.7h0M418.8 123.8h0M426.9 124.0h0M408.6 121.8h0M385.3 123.2h0M425.8 123.3h0M426.5 124.1h0M406.9 124.7h0M425.6 124.4h0M409.1 124.3h0M425.5 123.9h0M407.0 124.0h0M393.8 124.0h0M392.3 124.8h0M397.3 123.5h0M396.2 123.7h0M426.9 125.2h0M385.1 122.5h0M419.8 125.8h0M427.0 123.0h0M418.6 123.3h0M405.1 123.9h0M396.7 124.7h0M402.7 124.7h0M425.7 124.6h0M417.6 123.8h0M426.2 124.0h0M386.4 125.3h0M385.7 124.3h0M385.1 124.6h0M394.0 124.0h0M387.6 124.5h0M419.9 124.0h0M426.4 123.5h0M409.2 125.2h0M426.1 123.8h0M426.9 123.2h0M418.7 124.9h0M405.9 124.1h0M419.3 124.2h0M386.3 125.2h0M386.3 124.1h0M407.1 123.9h0M391.0 123.2h0M387.7 122.8h0M387.4 124.7h0M420.0 123.2h0M425.1 123.9h0M425.8 122.5h0M387.6 124.2h0M387.8 123.6h0M390.7 124.8h0M395.5 122.9h0M407.0 124.9h0M393.5 125.5h0M385.4 123.7h0M386.3 123.0h0M419.4 124.3h0M426.6 123.8h0M387.5 124.6h0M386.0 124.2h0M425.6 124.8h0M418.5 123.4h0M402.3 124.3h0M389.2 124.5h0M386.4 124.8h0M387.6 124.7h0M395.3 123.3h0M419.0 123.6h0M385.3 123.2h0M406.4 123.2h0M405.2 122.5h0" fill="none" stroke="#25ab4b" stroke-width="2" stroke-linecap="round"/>
<line x1="378.45" y1="113.75" x2="381.75" y2="113.75" stroke="#1a1a1a" stroke-width="0.8"/>
<text x="375.75" y="116.05" font-size="6.2" text-anchor="end" fill="#1a1a1a" stroke="#1a1a1a" stroke-width="0.12">1</text>
<line x1="378.45" y1="124" x2="381.75" y2="124" stroke="#1a1a1a" stroke-width="0.8"/>
<text x="375.75" y="126.3" font-size="6.2" text-anchor="end" fill="#1a1a1a" stroke="#1a1a1a" stroke-width="0.12">0.5</text>
<line x1="378.45" y1="134.25" x2="381.75" y2="134.25" stroke="#1a1a1a" stroke-width="0.8"/>
<text x="375.75" y="136.55" font-size="6.2" text-anchor="end" fill="#1a1a1a" stroke="#1a1a1a" stroke-width="0.12">0</text>
<text transform="translate(363.2,124.7) rotate(-90) scale(0.63,1)" font-size="8.2" text-anchor="middle" fill="#0a0a0a" stroke="#0a0a0a" stroke-width="0.36">SNP VAF</text>
<text x="447" y="114.6" font-size="5.9" fill="#2a2a2a" stroke="#2a2a2a" stroke-width="0.08">Split-read analysis:</text>
<text x="479.6" y="120.4" font-size="4.9" fill="#2a2a2a" stroke="#2a2a2a" stroke-width="0.08">Intron 1</text>
<line x1="471" y1="123" x2="506" y2="123" stroke="#6e6e6e" stroke-width="1.1"/>
<text x="444" y="127.8" font-size="3.8" fill="#222" stroke="#222" stroke-width="0.08" textLength="62" lengthAdjust="spacingAndGlyphs">..ATTAGAGTAGCAAACATAAAATTT..</text>
<line x1="444" y1="130" x2="481" y2="130" stroke="#6e6e6e" stroke-width="1.1"/>
<text x="453" y="135.7" font-size="4.9" fill="#2a2a2a" stroke="#2a2a2a" stroke-width="0.08">Intron 10</text>
<text x="5.8" y="165.4" font-size="10.6" fill="#000" font-weight="bold" stroke="#000" stroke-width="0.35">C</text>
<text x="143.2" y="165.6" font-size="8.95" text-anchor="middle" fill="#0d0d0d" stroke="#0d0d0d" stroke-width="0.2">Gain of PTD</text>
<line x1="45" y1="172" x2="45" y2="283.25" stroke="#0a0a0a" stroke-width="1.45"/>
<line x1="41.9" y1="279.8" x2="45" y2="279.8" stroke="#111" stroke-width="0.9"/>
<text x="39.4" y="282.3" font-size="7.7" text-anchor="end" fill="#000" stroke="#000" stroke-width="0.18">0</text>
<line x1="41.9" y1="262.5" x2="45" y2="262.5" stroke="#111" stroke-width="0.9"/>
<text x="39.4" y="265" font-size="7.7" text-anchor="end" fill="#000" stroke="#000" stroke-width="0.18">1</text>
<line x1="41.9" y1="245.2" x2="45" y2="245.2" stroke="#111" stroke-width="0.9"/>
<text x="39.4" y="247.7" font-size="7.7" text-anchor="end" fill="#000" stroke="#000" stroke-width="0.18">2</text>
<line x1="41.9" y1="227.9" x2="45" y2="227.9" stroke="#111" stroke-width="0.9"/>
<text x="39.4" y="230.4" font-size="7.7" text-anchor="end" fill="#000" stroke="#000" stroke-width="0.18">3</text>
<line x1="41.9" y1="210.6" x2="45" y2="210.6" stroke="#111" stroke-width="0.9"/>
<text x="39.4" y="213.1" font-size="7.7" text-anchor="end" fill="#000" stroke="#000" stroke-width="0.18">4</text>
<line x1="41.9" y1="193.3" x2="45" y2="193.3" stroke="#111" stroke-width="0.9"/>
<text x="39.4" y="195.8" font-size="7.7" text-anchor="end" fill="#000" stroke="#000" stroke-width="0.18">5</text>
<line x1="41.9" y1="176" x2="45" y2="176" stroke="#111" stroke-width="0.9"/>
<text x="39.4" y="178.5" font-size="7.7" text-anchor="end" fill="#000" stroke="#000" stroke-width="0.18">6</text>
<text transform="translate(28.8,228) rotate(-90) scale(0.76,1)" font-size="8.5" text-anchor="middle" fill="#0a0a0a" stroke="#0a0a0a" stroke-width="0.36">Total copy number</text>
<path d="M97.4 244.6h0M66.4 245.3h0M68.6 245.9h0M106.5 245.5h0M91.2 243.9h0M112.2 245.2h0M102.5 246.6h0M110.4 244.7h0M95.8 244.7h0M88.2 244.7h0M97.3 244.7h0M65.3 244.6h0M114.7 245.7h0M54.5 245.5h0M95.9 244.4h0M73.9 245.8h0M111.8 244.7h0M112.2 245.5h0M115.7 242.8h0M97.4 246.8h0M55.8 248.4h0M53.3 243.9h0M113.9 240.5h0M93.2 244.5h0M127.0 243.9h0M66.5 243.4h0M123.9 245.6h0M68.2 243.4h0M93.6 244.4h0M71.1 246.2h0M78.1 244.0h0M114.6 244.0h0M105.2 244.6h0M101.1 245.1h0M111.3 246.3h0M94.1 246.2h0M77.3 245.8h0M116.2 246.0h0M95.1 244.7h0M69.7 243.3h0M107.2 245.7h0M80.7 246.4h0M67.3 248.2h0M64.9 244.8h0M105.7 245.7h0M104.9 244.4h0M74.6 244.1h0M58.2 246.5h0M111.7 243.5h0M98.4 244.9h0M74.9 245.7h0M77.9 242.9h0M88.5 245.5h0M71.3 245.8h0M72.0 245.3h0M90.4 242.9h0M95.4 245.0h0M118.0 245.8h0M127.7 244.4h0M54.8 244.9h0M62.9 247.3h0M58.5 243.3h0M74.2 246.7h0M122.4 247.6h0M122.2 249.4h0M62.3 245.8h0M87.8 241.9h0M115.2 243.4h0M97.3 245.5h0M117.9 246.0h0M84.6 243.4h0M118.1 243.3h0M79.5 244.8h0M75.7 241.8h0M127.6 246.2h0M111.5 245.9h0M54.6 244.8h0M93.0 240.4h0M83.0 243.8h0M115.3 246.4h0M83.6 243.4h0M86.0 247.7h0M115.2 246.9h0M99.8 245.2h0M98.6 247.0h0M84.8 244.1h0M116.6 244.3h0M54.1 245.4h0M127.0 244.7h0M72.6 241.3h0M98.2 243.3h0M93.5 243.0h0M56.7 246.5h0M75.5 246.0h0M109.6 244.2h0M78.4 244.6h0M72.3 242.9h0M112.8 244.8h0M126.1 246.1h0M121.3 241.4h0M104.9 245.3h0M122.9 244.6h0M60.1 246.0h0M113.1 245.0h0M125.7 244.1h0M95.9 244.9h0M101.6 246.1h0M108.2 248.3h0M115.1 244.9h0M102.9 246.2h0M127.1 246.7h0M95.6 242.9h0M113.3 246.6h0M78.9 246.4h0M91.2 241.7h0M57.8 246.8h0M103.5 246.0h0M113.8 243.7h0M62.6 241.2h0M99.1 243.4h0M92.0 244.2h0M97.5 245.9h0M72.1 242.1h0M115.3 248.5h0M61.4 244.3h0M79.2 244.8h0M111.0 244.9h0M120.1 246.9h0M63.9 245.6h0M97.4 245.5h0M111.6 245.9h0M100.9 246.6h0M86.1 246.1h0M108.7 244.7h0M111.9 246.1h0M88.7 245.0h0M82.8 243.3h0M65.0 247.7h0M124.7 248.3h0M105.2 243.3h0M108.3 243.1h0M124.9 242.4h0M123.2 244.3h0M92.0 246.1h0M100.8 243.8h0M82.5 242.7h0M98.0 244.9h0M52.3 245.8h0M74.8 242.6h0M123.3 245.5h0M103.0 245.6h0M98.8 246.3h0M127.8 246.0h0M58.8 244.5h0M105.2 248.0h0M104.8 244.4h0M127.7 244.7h0M108.2 243.3h0M93.6 244.9h0M80.6 244.6h0M112.8 246.0h0M60.5 245.8h0M118.6 247.2h0M77.3 245.8h0M109.4 244.9h0M117.5 242.3h0M121.3 244.8h0M111.4 246.5h0M108.1 245.9h0M101.1 243.7h0M88.5 246.7h0M85.5 242.0h0M120.1 245.3h0M119.5 245.6h0M60.0 242.9h0M114.0 243.2h0M92.0 242.3h0M112.7 242.8h0M67.4 247.2h0M126.1 245.3h0M65.5 245.7h0M100.9 246.3h0M67.1 246.3h0M122.2 247.1h0M93.4 244.5h0M80.3 244.8h0M53.5 244.5h0M100.2 247.3h0M118.6 245.1h0M58.8 243.8h0M58.0 246.0h0M117.5 245.5h0M90.0 244.3h0M55.0 244.8h0M52.0 243.7h0M51.6 243.8h0M75.8 246.7h0M125.7 245.8h0M103.1 246.6h0M89.3 240.2h0M113.1 244.3h0M127.1 244.1h0M75.7 244.8h0M121.7 247.5h0M118.9 242.4h0M121.4 243.2h0M58.7 245.6h0M60.0 248.5h0M95.5 244.7h0M58.9 246.9h0M121.4 245.9h0M108.0 244.1h0M109.3 245.0h0M77.9 245.4h0M112.0 248.2h0M125.7 243.9h0M63.8 246.8h0M93.1 244.8h0M68.4 241.4h0M96.5 245.8h0M107.2 246.4h0M114.6 241.9h0M93.5 241.2h0M125.1 245.9h0M77.8 246.6h0M104.2 243.7h0M119.2 241.8h0M119.9 244.3h0M67.0 250.4h0M112.2 245.3h0M68.8 245.9h0M78.1 246.1h0M105.1 244.5h0M124.5 248.4h0M75.3 244.1h0M115.1 247.9h0M107.2 244.2h0M98.2 244.3h0M99.2 245.7h0M83.1 243.1h0M65.4 249.0h0M58.6 247.0h0M58.3 245.0h0M85.0 244.3h0M107.9 246.5h0M114.3 243.5h0M81.1 245.0h0M63.2 242.6h0M76.2 247.2h0M62.5 247.6h0M53.0 244.9h0M125.1 244.9h0M109.6 244.9h0M72.7 244.2h0M53.2 244.2h0M109.5 243.9h0M73.3 245.1h0M89.5 247.1h0M118.8 241.8h0M57.7 248.4h0M120.1 243.0h0M110.2 247.0h0M72.2 243.2h0M91.3 241.9h0M107.3 244.2h0M99.4 245.1h0M128.8 245.8h0M80.4 242.7h0M69.5 242.6h0M90.9 245.8h0M101.8 244.6h0M118.7 244.7h0M102.8 244.8h0M104.1 246.2h0M56.9 245.9h0M79.3 245.0h0M86.9 244.6h0M74.0 246.1h0M89.6 244.4h0M86.2 244.4h0M100.5 247.1h0M115.5 244.3h0M54.5 245.7h0M121.3 242.3h0M124.2 242.7h0M93.0 246.0h0M65.8 246.4h0M58.3 247.1h0M74.5 242.7h0M52.9 245.4h0M73.7 242.7h0M55.7 244.8h0M126.8 243.5h0M70.8 243.2h0M72.1 244.3h0M69.3 245.2h0M111.2 246.1h0M117.5 244.8h0M120.8 245.9h0M82.1 244.4h0M112.1 245.8h0M64.9 248.0h0M61.6 244.4h0M121.6 247.1h0M110.5 244.3h0M69.5 247.7h0M72.8 246.3h0M69.5 245.7h0M54.5 244.9h0M62.6 243.5h0M53.0 246.2h0M118.6 241.4h0M100.0 244.6h0M117.7 244.0h0M95.0 249.3h0M79.1 245.7h0M127.9 246.2h0M88.9 245.7h0M72.6 246.5h0M94.2 244.1h0M109.8 245.5h0M63.2 243.4h0M128.3 246.5h0M100.8 244.9h0M108.4 243.1h0M90.3 249.8h0M114.6 244.1h0M67.9 247.2h0M85.6 243.2h0M55.4 242.3h0M60.5 242.1h0M52.6 245.8h0M63.6 248.8h0M96.1 239.8h0M73.8 243.1h0M119.4 248.3h0M67.6 247.2h0M91.0 242.3h0M74.2 247.0h0M64.0 247.4h0M53.1 247.3h0M114.1 243.2h0M114.3 247.1h0M99.6 245.1h0M71.4 246.9h0M91.3 244.5h0M53.4 246.0h0M63.6 246.4h0M101.4 244.5h0M57.3 245.3h0M75.6 243.9h0M106.2 244.1h0M93.8 245.5h0M62.8 246.6h0M65.2 245.0h0M99.9 245.1h0M101.2 245.7h0M85.7 243.0h0M78.8 244.8h0M99.4 245.5h0M82.1 245.0h0M97.9 243.0h0M126.9 245.2h0M71.8 244.2h0M70.2 244.0h0M92.5 245.2h0M74.5 244.1h0M86.9 245.5h0M65.4 249.3h0M105.7 245.7h0M67.1 245.7h0M54.0 247.2h0M113.9 245.0h0M114.7 245.3h0M117.5 242.5h0M112.5 244.7h0M64.8 246.0h0M91.6 244.0h0M123.3 245.4h0M96.9 246.2h0M93.3 243.5h0M63.0 244.3h0M63.0 244.3h0M74.2 246.3h0M121.2 242.6h0M83.0 244.8h0M87.8 245.3h0M59.2 245.8h0M109.0 245.0h0M125.9 243.5h0M105.5 245.8h0M53.0 243.2h0M93.2 243.3h0M59.5 250.6h0M74.2 244.1h0M126.5 244.6h0M64.6 247.7h0M57.1 245.5h0M110.0 245.2h0M63.9 246.9h0M72.7 243.9h0M120.9 242.7h0M78.8 245.1h0M72.6 240.4h0M111.3 245.0h0M51.7 245.8h0M66.7 244.5h0M61.6 240.6h0M87.5 244.2h0M104.7 247.1h0M90.0 243.5h0M74.3 248.1h0M61.4 244.7h0M84.2 245.8h0M105.7 245.4h0M121.6 245.5h0M107.3 243.9h0M81.8 243.4h0M97.4 243.9h0M89.4 243.2h0M56.5 246.6h0M63.6 249.7h0M104.9 244.1h0M113.9 244.8h0M77.9 248.0h0M92.2 243.1h0M97.3 247.0h0M51.8 246.4h0M116.9 247.2h0M86.8 242.0h0M88.6 244.4h0M88.6 246.6h0M95.8 244.2h0M65.8 245.2h0M110.4 245.2h0M85.2 241.9h0M93.9 244.8h0M105.0 245.4h0M120.5 243.7h0M69.7 246.8h0M119.6 245.9h0M110.7 243.0h0M90.1 242.7h0M51.7 248.4h0M103.3 243.9h0M94.3 246.4h0M100.1 245.0h0M54.0 244.7h0M53.6 245.6h0M75.3 247.3h0M77.7 245.1h0M72.2 245.7h0M121.4 249.3h0M62.5 244.4h0M68.0 244.8h0M97.0 246.5h0M77.2 244.3h0M73.7 247.0h0M60.1 245.4h0M75.6 246.1h0M109.5 245.2h0M79.5 247.2h0M79.4 243.6h0M64.9 243.7h0M71.7 246.2h0M57.1 244.0h0M124.0 244.4h0M89.9 244.5h0M127.7 242.6h0M103.7 245.6h0M195.4 242.0h0M173.6 243.5h0M176.7 243.8h0M216.3 245.0h0M213.4 243.2h0M191.6 244.7h0M170.3 246.5h0M187.2 244.4h0M177.3 245.4h0M195.4 243.9h0M183.0 244.0h0M208.6 244.0h0M195.5 244.3h0M217.6 244.6h0M173.6 245.7h0M201.1 244.9h0M181.1 246.1h0M153.9 245.3h0M159.2 242.7h0M166.8 242.8h0M232.0 245.8h0M157.3 246.0h0M221.4 245.8h0M194.3 246.2h0M168.1 247.2h0M160.3 248.1h0M223.1 242.8h0M192.3 246.9h0M220.1 244.3h0M175.8 246.3h0M196.2 243.7h0M195.6 243.8h0M204.3 246.0h0M194.9 244.6h0M166.2 246.0h0M210.6 246.8h0M190.9 250.2h0M225.8 243.8h0M225.3 244.8h0M156.8 244.0h0M207.5 245.8h0M183.2 244.9h0M209.1 244.2h0M186.9 245.8h0M184.1 246.3h0M169.7 245.3h0M183.7 245.1h0M217.8 244.9h0M172.4 245.6h0M157.7 243.3h0M202.9 244.1h0M221.7 243.9h0M177.3 246.2h0M190.5 243.2h0M203.5 245.5h0M192.3 242.9h0M207.4 245.4h0M153.1 243.8h0M168.2 246.7h0M167.7 244.5h0M192.3 245.4h0M220.4 246.8h0M172.9 246.9h0M221.8 245.3h0M210.1 247.6h0M201.5 242.8h0M210.8 243.5h0M187.0 246.8h0M220.1 240.5h0M213.2 243.1h0M192.4 244.1h0M167.6 248.5h0M215.3 244.6h0M187.6 245.7h0M215.4 246.5h0M212.8 245.6h0M219.5 243.8h0M156.8 246.2h0M231.1 243.7h0M153.3 247.1h0M158.0 244.7h0M224.9 244.7h0M196.8 242.7h0M198.0 244.8h0M230.5 244.6h0M230.4 245.3h0M181.8 246.4h0M201.2 243.5h0M201.6 247.2h0M228.7 246.2h0M207.0 244.3h0M217.1 246.6h0M173.9 244.0h0M224.5 244.8h0M207.9 245.6h0M154.8 244.9h0M200.3 247.8h0M209.5 243.0h0M177.9 244.9h0M206.6 246.6h0M179.6 245.5h0M184.4 248.8h0M181.9 246.5h0M166.0 244.9h0M157.0 246.2h0M215.3 246.6h0M181.1 244.8h0M211.0 244.9h0M230.9 246.1h0M190.1 245.4h0M191.8 246.0h0M215.9 245.2h0M223.9 243.4h0M154.4 243.7h0M176.8 245.1h0M168.5 243.2h0M220.9 243.5h0M231.9 246.6h0M194.5 243.3h0M217.9 243.3h0M171.4 245.3h0M162.9 247.1h0M205.9 244.2h0M189.6 242.5h0M171.0 248.9h0M205.1 245.0h0M188.4 247.9h0M188.0 246.5h0M230.3 245.4h0M179.3 245.6h0M153.1 243.9h0M180.9 244.2h0M165.0 247.4h0M220.4 244.8h0M227.3 245.3h0M206.3 242.4h0M219.6 242.7h0M159.8 246.0h0M158.2 243.4h0M205.4 242.8h0M194.2 247.6h0M166.9 248.6h0M179.9 244.8h0M200.9 245.8h0M167.9 243.9h0M155.3 245.2h0M167.9 246.6h0M216.9 246.3h0M233.6 247.4h0M179.6 243.9h0M175.6 244.9h0M204.6 246.7h0M179.5 245.0h0M180.8 247.5h0M206.6 246.2h0M192.7 243.5h0M157.4 243.9h0M189.1 242.8h0M227.5 244.3h0M153.7 246.8h0M181.6 245.4h0M190.1 244.1h0M162.9 243.5h0M230.2 246.4h0M190.3 246.9h0M226.8 240.6h0M180.4 247.5h0M188.8 245.6h0M230.3 247.2h0M164.0 245.2h0M163.0 244.8h0M207.4 244.7h0M207.6 244.9h0M223.6 243.7h0M182.8 247.2h0M172.6 246.6h0M162.8 248.6h0M203.8 243.3h0M189.2 248.1h0M201.5 247.0h0M195.7 245.4h0M221.5 242.7h0M193.9 247.5h0M204.6 245.3h0M168.3 246.9h0M166.3 243.6h0M203.8 246.2h0M168.5 244.7h0M187.1 246.3h0M163.2 247.1h0M195.5 246.7h0M167.8 248.0h0M154.7 245.5h0M192.8 246.6h0M188.7 247.5h0M157.8 245.4h0M227.4 249.1h0M154.0 245.9h0M165.2 246.2h0M228.4 244.1h0M162.9 242.1h0M224.0 246.5h0M224.3 245.6h0M176.1 245.8h0M216.6 245.8h0M197.1 245.0h0M175.1 246.3h0M160.9 243.1h0M161.8 245.5h0M205.2 245.2h0M177.4 245.6h0M168.3 245.1h0M176.9 248.0h0M208.8 245.5h0M227.4 244.4h0M206.4 246.2h0M223.3 242.8h0M160.0 244.2h0M167.0 246.8h0M192.8 244.7h0M167.4 246.5h0M179.3 245.7h0M199.0 243.4h0M233.5 243.9h0M191.4 247.1h0M194.0 244.4h0M234.0 245.3h0M163.5 246.0h0M155.9 243.0h0M174.4 247.1h0M233.7 245.1h0M192.2 244.3h0M199.4 247.1h0M169.7 247.8h0M157.2 242.6h0M231.2 244.2h0M182.1 244.7h0M182.4 245.7h0M171.4 247.1h0M212.0 243.7h0M192.3 242.9h0M189.1 240.9h0M234.7 244.5h0M186.5 244.9h0M224.5 245.8h0M223.5 245.2h0M211.5 244.8h0M161.5 246.0h0M220.0 243.0h0M218.6 244.0h0M170.7 248.3h0M210.9 244.9h0M219.5 240.7h0M233.8 246.8h0M181.0 247.1h0M182.6 245.3h0M179.0 245.0h0M192.6 246.5h0M229.0 243.5h0M218.1 245.5h0M187.3 245.3h0M181.4 242.7h0M166.8 245.0h0M199.8 240.3h0M182.0 248.0h0M223.1 245.2h0M219.5 244.7h0M181.5 244.7h0M154.6 244.1h0M171.7 247.8h0M232.1 245.0h0M225.3 245.8h0M201.0 246.3h0M199.3 243.1h0M165.7 246.0h0M170.9 248.4h0M174.8 245.6h0M177.2 247.7h0M207.0 245.1h0M165.4 246.0h0M163.5 245.8h0M207.6 247.7h0M186.7 247.5h0M160.0 247.4h0M216.6 244.0h0M165.4 245.2h0M178.2 246.1h0M167.7 243.1h0M184.1 242.4h0M177.3 245.8h0M155.3 245.1h0M211.5 244.9h0M224.8 245.5h0M227.7 244.1h0M162.2 247.3h0M161.6 243.6h0M232.1 245.4h0M220.4 243.4h0M214.9 246.4h0M230.1 245.2h0M193.7 244.2h0M177.4 244.5h0M174.4 245.6h0M185.1 247.2h0M208.4 245.9h0M226.6 244.7h0M219.5 245.3h0M158.1 244.9h0M200.0 246.4h0M225.5 243.0h0M198.0 243.1h0M177.5 242.4h0M192.1 245.8h0M226.4 245.9h0M208.5 244.6h0M172.3 244.0h0M172.6 243.2h0M170.0 243.7h0M203.3 246.2h0M219.0 244.5h0M214.0 242.9h0M164.3 245.8h0M232.2 243.0h0M216.9 246.7h0M196.8 243.6h0M186.7 248.9h0M158.9 245.1h0M232.2 243.4h0M155.9 246.4h0M191.9 247.2h0M207.2 245.9h0M178.2 245.3h0M190.1 243.7h0M199.8 245.9h0M175.4 243.5h0M208.3 242.8h0M192.5 246.9h0M191.8 245.1h0M197.2 246.0h0M194.5 245.9h0M159.1 243.8h0M166.1 245.7h0M212.5 247.1h0M225.2 241.4h0M168.8 246.7h0M155.6 240.0h0M224.4 244.3h0M164.2 245.6h0M213.6 245.7h0M188.9 244.3h0M159.6 246.1h0M212.2 243.9h0M170.8 249.4h0M158.9 245.0h0M183.7 242.8h0M166.5 244.6h0M197.2 245.4h0M220.9 245.5h0M162.6 246.6h0M189.8 250.0h0M183.7 245.5h0M205.6 242.6h0M177.6 245.4h0M206.4 246.0h0M182.7 245.2h0M160.1 246.9h0M166.0 246.4h0M193.2 240.4h0M179.1 244.2h0M233.7 245.2h0M212.5 245.4h0M229.9 246.1h0M232.1 245.5h0M222.7 246.4h0M187.4 244.0h0M154.1 244.0h0M163.8 246.1h0M174.0 246.1h0M195.6 246.8h0M217.8 245.3h0M182.1 245.3h0M227.8 243.3h0M232.9 246.6h0M232.8 245.2h0M223.7 244.1h0M224.3 247.2h0M166.2 247.2h0M226.0 244.6h0M172.1 246.1h0M214.4 244.0h0M222.2 244.5h0M155.1 244.1h0M215.1 243.4h0M219.3 242.3h0M177.3 245.8h0M204.1 242.3h0M233.5 243.7h0M186.8 249.2h0M156.9 246.8h0M190.0 249.0h0M232.8 243.7h0M154.6 241.8h0M223.0 244.4h0M214.6 245.3h0M214.7 246.0h0M158.9 243.1h0M192.0 242.5h0M232.7 243.4h0M153.8 243.5h0M181.0 248.3h0M202.5 246.1h0M213.7 245.1h0M223.7 243.9h0M222.0 244.7h0M194.1 244.2h0M178.9 246.3h0M154.7 245.9h0M175.0 246.4h0M198.9 246.4h0M177.6 244.2h0M156.7 244.1h0M192.4 248.9h0M156.3 245.1h0M187.1 246.5h0M219.5 246.0h0M186.6 244.6h0M162.6 248.3h0M183.9 247.4h0M185.3 248.5h0M173.5 244.4h0M188.9 246.4h0M222.1 241.3h0M176.8 246.1h0M160.4 249.2h0M178.0 245.4h0M172.9 245.8h0M234.4 243.9h0M214.3 247.8h0M232.5 244.7h0M223.0 245.9h0M194.3 247.1h0M226.4 246.4h0M183.5 246.7h0M176.8 245.9h0M177.1 244.2h0M231.8 242.5h0M220.9 246.2h0M219.0 243.5h0M157.2 246.6h0M204.9 243.1h0M183.8 244.6h0M221.3 245.4h0M189.1 248.1h0M192.9 245.6h0M234.4 245.4h0M214.8 249.2h0M212.7 244.2h0M175.3 245.0h0M187.8 243.4h0M179.9 247.6h0M158.5 243.1h0M183.9 247.5h0M182.2 244.3h0M193.8 244.3h0M223.3 243.9h0M224.6 244.5h0M215.5 245.0h0M180.4 245.1h0M197.7 247.2h0M206.4 244.4h0M184.1 247.2h0M218.5 246.2h0M196.2 243.4h0M229.3 244.9h0M156.8 243.4h0M207.5 245.4h0M173.3 242.5h0M196.2 247.8h0M191.5 246.0h0M225.7 245.6h0M229.8 244.6h0M226.4 244.5h0M161.0 244.6h0M174.4 248.7h0M231.6 246.1h0M186.6 241.8h0M161.2 245.3h0M163.0 244.5h0M217.3 244.2h0M186.8 243.8h0M171.8 244.5h0M227.6 243.4h0M157.9 245.3h0M161.7 245.6h0M205.5 245.7h0M194.0 244.5h0M227.6 243.7h0M222.6 241.1h0M190.3 249.1h0M228.9 243.2h0M154.5 259.0h0M168.0 255.0h0M128.0 254.0h0M100.0 251.5h0M87.0 237.0h0M75.0 238.5h0" fill="none" stroke="#124e8a" stroke-width="2.4" stroke-linecap="round"/>
<path d="M134.0 231.0h0M138.0 229.0h0M144.1 232.7h0M140.7 231.0h0M134.4 232.5h0M137.1 230.0h0M143.8 232.7h0M133.4 227.2h0M136.0 230.4h0M138.4 225.2h0M132.6 228.3h0M143.5 227.4h0M134.8 230.1h0M141.8 229.2h0M137.7 232.5h0M132.4 229.1h0M142.0 233.3h0M142.7 230.2h0M139.8 224.6h0M140.9 229.2h0M133.8 228.3h0M136.5 229.7h0M135.7 226.1h0M138.3 230.1h0M131.2 230.7h0M134.8 225.4h0M135.2 228.0h0M139.3 226.9h0M141.8 231.0h0M133.7 230.4h0M140.4 225.0h0M131.2 228.0h0M132.1 230.5h0M132.0 233.6h0M143.8 230.9h0M143.0 229.0h0M140.1 226.9h0M132.6 226.9h0M142.1 230.0h0M132.8 233.5h0M133.8 234.5h0M142.9 234.3h0M132.6 229.1h0M136.2 228.2h0M143.6 226.4h0M140.0 233.2h0M137.4 232.9h0M135.8 228.8h0M142.7 230.6h0M136.7 226.5h0M139.1 234.3h0M136.4 235.1h0M137.2 228.7h0M135.9 231.5h0M139.8 233.5h0M143.4 227.5h0M136.7 229.0h0M137.7 233.6h0M143.4 230.8h0M139.2 230.3h0M131.9 232.2h0M142.4 231.7h0M132.6 227.7h0M137.9 227.3h0M135.1 235.1h0M135.9 233.8h0M132.5 230.0h0M141.9 226.3h0M129.6 242.2h0M128.4 243.0h0M130.4 245.0h0M129.4 247.7h0M129.9 248.6h0M128.9 251.0h0M131.5 199.4h0M134.5 223.0h0M152.3 223.6h0M152.0 226.5h0M152.4 229.0h0M132.5 236.8h0M144.2 236.5h0M129.3 267.3h0" fill="none" stroke="#25ab4b" stroke-width="2.4" stroke-linecap="round"/>
<path d="M145.8 227.0h0M147.0 227.5h0M148.5 227.8h0M150.3 227.0h0M146.5 229.0h0M148.0 229.3h0M149.6 229.0h0M147.5 231.0h0M149.0 231.2h0M148.3 232.8h0M149.0 234.3h0M148.6 235.4h0M146.0 230.0h0M145.8 190.6h0M145.5 194.6h0M146.0 195.8h0M145.2 196.8h0M145.9 197.6h0M145.4 198.6h0M146.1 199.4h0M145.6 200.6h0" fill="none" stroke="#cb0a32" stroke-width="2.3" stroke-linecap="round"/>
<line x1="45.5" y1="197.3" x2="239.5" y2="197.3" stroke="#111" stroke-width="0.9" stroke-dasharray="3.7 1.5"/>
<line x1="45.5" y1="213.5" x2="239.5" y2="213.5" stroke="#111" stroke-width="0.9" stroke-dasharray="3.7 1.5"/>
<line x1="45.5" y1="229.5" x2="239.5" y2="229.5" stroke="#111" stroke-width="0.9" stroke-dasharray="3.7 1.5"/>
<line x1="45.5" y1="245.3" x2="239.5" y2="245.3" stroke="#111" stroke-width="0.9" stroke-dasharray="3.7 1.5"/>
<text x="187" y="193.75" font-size="6" fill="#2a2a2a" stroke="#2a2a2a" stroke-width="0.08">+3 copy gain</text>
<text x="187" y="210" font-size="6" fill="#2a2a2a" stroke="#2a2a2a" stroke-width="0.08">+2 copy gain</text>
<text x="187" y="225.75" font-size="6" fill="#2a2a2a" stroke="#2a2a2a" stroke-width="0.08">+1 copy gain</text>
<text x="140" y="264.2" font-size="6.2" text-anchor="middle" fill="#1a1a1a" stroke="#1a1a1a" stroke-width="0.12">chr11</text>
<rect x="127.9" y="266.05" width="16.2" height="2.5" fill="#25ab4b"/>
<rect x="144.1" y="266.05" width="7.1" height="2.5" fill="#cb0a32"/>
<rect x="151.2" y="266.05" width="1.4" height="2.5" fill="#25ab4b"/>
<text x="281.8" y="165.4" font-size="10.6" fill="#000" font-weight="bold" stroke="#000" stroke-width="0.35">D</text>
<text x="414.5" y="165.6" font-size="8.93" text-anchor="middle" fill="#0d0d0d" stroke="#0d0d0d" stroke-width="0.2">Double gain of PTD</text>
<line x1="319.75" y1="172" x2="319.75" y2="283.25" stroke="#0a0a0a" stroke-width="1.45"/>
<line x1="316.65" y1="279.8" x2="319.75" y2="279.8" stroke="#111" stroke-width="0.9"/>
<text x="314.15" y="282.3" font-size="7.7" text-anchor="end" fill="#000" stroke="#000" stroke-width="0.18">0</text>
<line x1="316.65" y1="262.5" x2="319.75" y2="262.5" stroke="#111" stroke-width="0.9"/>
<text x="314.15" y="265" font-size="7.7" text-anchor="end" fill="#000" stroke="#000" stroke-width="0.18">1</text>
<line x1="316.65" y1="245.2" x2="319.75" y2="245.2" stroke="#111" stroke-width="0.9"/>
<text x="314.15" y="247.7" font-size="7.7" text-anchor="end" fill="#000" stroke="#000" stroke-width="0.18">2</text>
<line x1="316.65" y1="227.9" x2="319.75" y2="227.9" stroke="#111" stroke-width="0.9"/>
<text x="314.15" y="230.4" font-size="7.7" text-anchor="end" fill="#000" stroke="#000" stroke-width="0.18">3</text>
<line x1="316.65" y1="210.6" x2="319.75" y2="210.6" stroke="#111" stroke-width="0.9"/>
<text x="314.15" y="213.1" font-size="7.7" text-anchor="end" fill="#000" stroke="#000" stroke-width="0.18">4</text>
<line x1="316.65" y1="193.3" x2="319.75" y2="193.3" stroke="#111" stroke-width="0.9"/>
<text x="314.15" y="195.8" font-size="7.7" text-anchor="end" fill="#000" stroke="#000" stroke-width="0.18">5</text>
<line x1="316.65" y1="176" x2="319.75" y2="176" stroke="#111" stroke-width="0.9"/>
<text x="314.15" y="178.5" font-size="7.7" text-anchor="end" fill="#000" stroke="#000" stroke-width="0.18">6</text>
<text transform="translate(303.6,228) rotate(-90) scale(0.76,1)" font-size="8.5" text-anchor="middle" fill="#0a0a0a" stroke="#0a0a0a" stroke-width="0.36">Total copy number</text>
<path d="M336.0 243.8h0M332.3 243.1h0M334.2 244.4h0M334.8 246.1h0M337.5 245.4h0M326.9 244.8h0M330.3 245.5h0M333.7 243.0h0M326.4 245.6h0M326.1 246.7h0M336.9 244.4h0M330.2 244.6h0M336.3 245.7h0M334.6 244.0h0M332.1 243.9h0M334.6 243.8h0M328.6 246.2h0M332.7 245.3h0M333.8 243.3h0M326.4 244.4h0M326.8 243.7h0M332.4 244.6h0M332.9 244.4h0M334.3 245.6h0M332.2 245.7h0M332.8 244.7h0M335.0 244.3h0M337.6 246.7h0M335.9 246.7h0M330.2 243.6h0M337.1 247.4h0M328.4 243.6h0M329.6 244.6h0M326.3 246.9h0M331.3 244.7h0M337.6 242.6h0M336.3 245.9h0M326.8 244.1h0M333.4 243.6h0M327.0 243.9h0M326.4 248.7h0M337.3 245.7h0M327.0 246.1h0M334.1 246.6h0M328.0 244.9h0M337.3 245.6h0M327.3 247.8h0M330.3 247.9h0M334.9 243.2h0M326.9 243.5h0M339.0 246.6h0M352.6 243.8h0M346.1 244.0h0M340.7 244.3h0M345.9 246.8h0M348.2 247.7h0M342.5 246.2h0M340.4 246.3h0M352.8 246.6h0M347.1 245.2h0M347.2 245.9h0M347.6 248.4h0M346.6 246.2h0M352.7 245.4h0M349.4 245.7h0M351.8 246.2h0M341.9 247.1h0M347.7 245.5h0M339.2 245.0h0M344.3 246.8h0M352.9 246.7h0M354.5 247.9h0M340.5 245.5h0M342.0 245.9h0M353.1 247.7h0M338.7 245.1h0M352.5 242.9h0M342.5 245.9h0M349.1 247.2h0M339.5 247.9h0M343.5 245.1h0M350.7 246.6h0M351.5 246.3h0M351.8 248.1h0M345.4 244.6h0M349.7 249.4h0M354.0 243.8h0M353.5 245.8h0M351.4 247.5h0M338.1 246.6h0M341.0 246.4h0M347.8 245.6h0M355.1 247.5h0M346.2 247.2h0M345.9 247.6h0M340.3 246.7h0M347.9 246.6h0M340.0 246.6h0M354.9 249.7h0M343.9 247.0h0M351.8 246.1h0M348.5 247.0h0M340.7 245.2h0M339.3 245.6h0M339.4 245.8h0M351.2 248.5h0M343.1 245.0h0M355.4 247.0h0M344.1 245.2h0M345.3 246.3h0M377.6 244.8h0M383.3 244.5h0M386.6 245.3h0M374.3 241.1h0M365.8 245.2h0M392.8 247.3h0M376.1 243.2h0M362.5 244.9h0M365.0 245.3h0M371.1 246.6h0M390.2 245.8h0M360.8 244.3h0M391.2 245.6h0M367.6 247.2h0M384.8 244.5h0M381.5 245.7h0M372.9 244.3h0M372.1 247.2h0M382.0 247.6h0M373.5 244.0h0M364.4 245.9h0M369.5 247.8h0M363.9 244.6h0M384.4 243.3h0M398.2 247.0h0M388.2 242.3h0M398.6 247.3h0M372.4 246.6h0M385.0 246.2h0M374.1 242.9h0M379.4 242.7h0M372.8 243.8h0M374.8 247.6h0M373.6 244.5h0M399.0 247.5h0M381.4 241.6h0M379.5 242.5h0M374.5 246.9h0M374.4 247.0h0M380.5 243.6h0M391.3 246.7h0M384.6 245.5h0M395.5 246.6h0M391.9 245.4h0M363.4 245.0h0M388.9 242.3h0M395.8 246.6h0M399.5 244.0h0M365.9 246.8h0M367.2 243.9h0M376.2 242.3h0M362.9 246.0h0M368.0 245.6h0M369.0 245.5h0M372.4 245.4h0M384.7 244.7h0M383.1 242.8h0M397.0 245.0h0M398.4 246.2h0M394.5 247.1h0M378.6 241.1h0M378.4 244.2h0M366.2 246.8h0M363.1 246.3h0M385.7 242.8h0M365.3 244.5h0M360.2 244.8h0M360.8 246.4h0M393.6 246.8h0M387.7 243.4h0M398.0 248.9h0M387.8 243.1h0M398.0 245.6h0M383.2 246.5h0M381.1 245.0h0M370.4 246.3h0M381.5 243.1h0M363.7 246.8h0M399.2 246.2h0M371.2 247.2h0M394.0 248.1h0M398.1 245.8h0M372.4 243.0h0M372.6 249.2h0M375.4 245.0h0M387.4 244.9h0M369.6 244.2h0M386.1 245.1h0M382.9 244.4h0M364.2 243.0h0M384.7 244.2h0M373.7 246.0h0M375.5 244.6h0M390.3 245.5h0M383.1 241.1h0M380.2 244.7h0M376.9 242.3h0M382.3 242.8h0M371.7 243.9h0M371.2 243.5h0M377.0 245.4h0M363.8 244.2h0M372.9 246.5h0M382.2 242.5h0M372.1 245.0h0M377.8 241.0h0M392.4 244.7h0M371.9 248.9h0M390.9 247.0h0M379.5 244.9h0M393.4 246.9h0M377.7 243.1h0M365.7 245.2h0M379.1 245.0h0M395.7 246.5h0M377.9 243.7h0M394.5 245.1h0M395.0 246.1h0M367.0 247.6h0M383.8 248.8h0M367.2 243.9h0M366.9 244.4h0M398.2 246.5h0M374.8 244.7h0M394.5 246.6h0M375.3 244.9h0M392.0 246.7h0M396.7 244.3h0M396.4 248.4h0M362.3 246.8h0M379.9 244.1h0M359.8 243.5h0M395.9 246.6h0M379.7 246.3h0M398.9 244.5h0M389.2 245.2h0M399.9 242.7h0M398.1 247.0h0M381.1 244.4h0M371.0 246.6h0M383.2 246.0h0M397.8 247.6h0M392.8 245.9h0M392.4 247.3h0M364.2 245.7h0M365.7 246.6h0M384.3 244.7h0M397.4 245.1h0M361.8 244.2h0M366.5 245.9h0M379.6 244.5h0M394.9 245.1h0M393.6 246.8h0M376.9 247.8h0M377.9 243.5h0M371.2 244.2h0M384.6 245.4h0M364.4 246.0h0M385.4 245.8h0M385.9 246.8h0M384.4 243.9h0M374.9 250.9h0M369.5 244.6h0M369.7 242.5h0M364.3 243.5h0M393.2 247.0h0M387.1 242.7h0M370.4 246.2h0M377.5 242.9h0M398.7 244.4h0M367.5 246.0h0M368.8 246.4h0M395.3 246.3h0M382.0 239.0h0M382.1 245.1h0M441.6 245.6h0M439.0 245.7h0M439.6 245.5h0M442.4 247.0h0M429.2 243.6h0M436.2 245.4h0M446.2 247.3h0M443.3 248.2h0M429.1 241.8h0M436.0 243.0h0M431.5 245.0h0M442.0 244.2h0M442.5 243.9h0M441.5 244.7h0M448.9 245.9h0M447.2 245.3h0M444.3 246.8h0M443.2 251.4h0M436.2 244.0h0M436.4 243.6h0M437.2 243.6h0M441.2 245.0h0M427.8 248.4h0M434.8 245.4h0M428.7 244.0h0M438.2 246.6h0M443.5 245.2h0M429.6 248.3h0M440.1 244.6h0M442.7 243.9h0M427.4 242.4h0M433.1 247.7h0M432.1 244.9h0M439.4 246.2h0M448.3 246.6h0M441.3 244.8h0M437.0 245.8h0M436.9 244.1h0M436.2 244.8h0M446.7 245.7h0M429.7 245.6h0M441.5 243.9h0M430.7 244.4h0M441.7 244.8h0M439.3 244.5h0M433.6 244.7h0M439.9 246.5h0M435.3 242.4h0M431.4 245.0h0M435.0 245.4h0M442.4 242.7h0M436.8 244.9h0M444.4 244.3h0M433.2 244.2h0M441.5 246.1h0M434.2 246.6h0M444.6 246.1h0M427.7 246.8h0M433.5 247.2h0M447.5 246.1h0M446.6 245.0h0M429.9 243.8h0M433.7 244.6h0M435.1 242.3h0M436.6 243.7h0M445.3 244.9h0M447.1 246.5h0M427.4 246.0h0M430.5 245.6h0M448.5 245.3h0M427.8 249.1h0M433.3 246.4h0M428.5 244.5h0M440.3 245.7h0M444.8 243.2h0M431.0 244.6h0M441.2 241.5h0M431.7 247.0h0M428.8 245.3h0M442.2 246.4h0M430.3 244.1h0M428.8 245.0h0M427.5 244.6h0M431.6 244.7h0M448.6 247.3h0M448.1 243.5h0M428.0 246.2h0M443.3 244.5h0M440.4 245.3h0M436.1 245.0h0M441.7 245.6h0M430.7 245.9h0M441.9 245.1h0M443.4 244.2h0M445.2 249.7h0M455.3 246.5h0M450.0 246.2h0M449.5 246.4h0M449.5 246.5h0M450.7 246.3h0M455.3 244.9h0M450.6 243.9h0M459.2 247.4h0M455.7 244.8h0M451.6 245.3h0M460.8 246.2h0M452.5 243.1h0M449.7 245.2h0M459.1 245.5h0M458.8 248.9h0M451.2 245.8h0M455.7 246.3h0M450.0 248.7h0M450.1 244.6h0M457.7 245.3h0M454.9 246.5h0M457.4 243.6h0M452.5 246.7h0M455.0 247.6h0M457.5 249.7h0M454.9 245.1h0M449.1 243.8h0M451.1 246.3h0M458.8 243.3h0M450.1 246.5h0M454.5 245.5h0M449.5 246.6h0M457.1 245.5h0M453.3 246.5h0M455.7 244.8h0M457.7 247.0h0M459.3 246.7h0M457.4 244.6h0M458.4 245.3h0M457.0 245.5h0M464.7 245.5h0M480.6 242.7h0M477.8 243.3h0M504.6 245.0h0M492.3 245.9h0M474.9 244.9h0M487.1 244.7h0M484.2 245.8h0M475.3 243.8h0M490.7 249.2h0M472.2 245.1h0M467.5 243.4h0M494.8 244.8h0M492.2 246.3h0M507.8 248.0h0M493.6 244.5h0M505.0 245.2h0M485.5 245.0h0M499.2 247.2h0M500.7 247.7h0M484.2 247.9h0M495.4 248.0h0M466.5 247.5h0M507.7 245.0h0M486.1 244.4h0M500.4 245.0h0M476.0 245.5h0M495.1 247.6h0M504.5 247.1h0M480.9 245.2h0M464.1 245.4h0M473.0 243.6h0M505.2 246.5h0M482.2 244.6h0M478.3 245.0h0M476.1 246.1h0M472.0 239.7h0M496.0 246.8h0M474.3 244.3h0M500.1 242.3h0M469.5 244.8h0M468.7 246.3h0M499.7 245.0h0M463.1 245.7h0M471.9 243.9h0M464.2 246.4h0M465.9 245.1h0M494.7 243.3h0M468.1 242.9h0M504.6 247.6h0M482.4 245.3h0M508.5 245.3h0M471.4 243.2h0M476.7 244.3h0M477.4 241.7h0M473.2 246.4h0M476.6 244.2h0M486.3 246.6h0M481.1 245.2h0M502.3 246.1h0M501.5 243.9h0M495.2 245.6h0M485.4 241.2h0M477.7 248.6h0M473.3 244.0h0M498.4 242.2h0M466.8 244.6h0M467.4 244.7h0M499.3 244.6h0M496.5 246.0h0M477.5 242.4h0M473.6 243.9h0M496.1 248.0h0M483.1 245.2h0M498.5 247.1h0M476.0 244.8h0M485.7 245.8h0M503.7 247.2h0M490.9 246.9h0M507.2 247.1h0M503.2 245.5h0M497.9 243.9h0M472.2 246.7h0M465.2 246.7h0M467.3 243.2h0M478.2 240.9h0M494.7 239.8h0M472.5 246.2h0M508.3 246.6h0M471.5 245.8h0M482.4 246.5h0M507.8 245.7h0M497.6 245.2h0M483.1 245.5h0M472.6 242.5h0M493.2 247.0h0M476.1 245.9h0M485.8 245.4h0M504.4 247.0h0M500.8 250.0h0M467.8 246.1h0M481.5 244.9h0M494.1 244.6h0M487.7 245.1h0M485.5 247.8h0M492.5 244.3h0M494.4 245.2h0M462.9 242.8h0M493.5 246.1h0M464.6 242.8h0M503.5 244.5h0M469.1 244.8h0M489.5 243.3h0M470.7 243.9h0M506.8 244.1h0M507.1 245.9h0M484.6 244.5h0M464.8 243.0h0M490.6 244.9h0M503.8 244.9h0M476.6 244.1h0M493.5 244.9h0M461.5 246.3h0M495.3 244.7h0M509.0 245.3h0M486.8 243.4h0M465.0 243.8h0M475.3 245.6h0M506.0 246.3h0M465.8 245.4h0M504.4 245.2h0M500.2 248.6h0M506.0 244.9h0M477.3 244.1h0M505.0 249.4h0M502.4 244.1h0M494.5 244.9h0M502.9 243.6h0M481.0 244.3h0M499.5 245.6h0M480.2 245.1h0M466.8 246.1h0M465.4 246.1h0M500.8 247.7h0M462.0 243.8h0M481.3 244.0h0M504.7 245.5h0M494.2 243.6h0M496.0 246.3h0M488.4 244.9h0M477.2 244.1h0M506.0 245.5h0M464.9 242.5h0M494.7 245.9h0M501.0 242.9h0M490.6 245.1h0M497.5 244.9h0M467.3 241.4h0M469.5 246.0h0M484.4 244.3h0M489.8 246.3h0M480.0 241.6h0M479.7 244.5h0M481.7 246.9h0M476.6 240.7h0M468.9 243.3h0M461.9 244.1h0M467.5 245.2h0M492.0 244.7h0M466.7 244.3h0M491.9 246.1h0M479.2 246.0h0M492.9 247.2h0M466.4 246.2h0M467.0 242.5h0M501.7 246.7h0M506.7 244.9h0M465.4 246.2h0M472.5 245.5h0M469.9 244.1h0M480.0 247.5h0M501.6 249.2h0M488.0 245.9h0M507.9 245.8h0M502.9 244.6h0M495.3 243.8h0M496.7 243.0h0M480.2 246.5h0M474.6 244.3h0M466.9 244.3h0M476.9 243.1h0M503.8 244.6h0M491.3 246.6h0M483.0 246.8h0M494.2 247.9h0M491.7 246.5h0M486.2 244.5h0M483.5 247.2h0M489.3 249.9h0M470.1 246.3h0M497.2 243.9h0M468.3 242.8h0M496.2 243.7h0M484.0 246.5h0M484.7 246.1h0M357.8 261.1h0M357.8 263.7h0M358.3 262.8h0M359.7 263.9h0M357.6 262.5h0M358.2 263.9h0M359.9 261.3h0M359.4 261.7h0M357.9 264.2h0M359.7 263.5h0M358.8 261.4h0M359.7 262.0h0M359.9 263.2h0M359.6 263.2h0M358.3 264.2h0M357.3 261.2h0M359.9 262.2h0M359.2 261.3h0M359.0 261.6h0M359.0 261.7h0M332.0 252.5h0M327.0 238.0h0M334.5 239.0h0M457.0 251.0h0M506.0 251.0h0" fill="none" stroke="#124e8a" stroke-width="2.4" stroke-linecap="round"/>
<path d="M408.7 234.5h0M404.6 235.6h0M409.2 235.3h0M404.7 235.6h0M403.9 233.9h0M405.9 235.7h0M408.5 233.8h0M406.6 233.0h0M405.0 233.4h0M406.1 234.5h0M408.2 234.1h0M407.0 234.7h0M404.4 234.4h0M405.5 235.7h0M404.0 235.1h0M409.2 233.7h0M409.8 235.3h0M407.7 233.1h0M405.3 235.2h0M405.7 235.7h0M406.0 235.7h0M408.7 234.4h0M406.6 232.8h0M404.9 234.7h0M416.3 229.2h0M411.2 231.1h0M412.2 232.8h0M417.2 232.5h0M411.9 231.1h0M417.1 230.5h0M411.6 229.6h0M410.7 230.1h0M410.6 231.3h0M411.0 230.0h0M412.3 232.0h0M409.9 230.0h0M413.2 230.3h0M417.2 230.0h0M414.8 230.2h0M416.6 229.3h0M415.1 232.5h0M415.1 230.0h0M415.9 231.3h0M416.5 233.7h0M417.2 230.7h0M417.5 233.2h0M411.4 233.5h0M415.6 232.5h0M416.1 229.1h0M410.6 229.1h0M413.1 229.0h0M417.1 231.2h0M417.0 231.0h0M412.5 229.5h0M410.0 233.1h0M415.2 231.9h0M411.3 231.5h0M412.3 234.9h0M402.4 238.8h0M402.3 239.4h0M402.7 240.5h0M402.5 242.0h0M401.9 242.8h0M402.7 243.9h0M402.8 245.1h0M401.7 245.9h0M402.2 246.6h0M402.8 248.0h0M402.6 248.7h0M403.2 237.0h0M424.8 218.6h0M426.0 219.6h0M426.6 221.0h0M426.8 222.6h0M426.4 224.2h0M425.6 225.4h0" fill="none" stroke="#25ab4b" stroke-width="2.4" stroke-linecap="round"/>
<path d="M421.5 217.1h0M420.2 224.1h0M421.8 222.1h0M419.9 219.4h0M422.0 222.2h0M420.1 219.5h0M418.4 223.9h0M422.3 226.0h0M422.4 220.6h0M421.4 222.2h0M420.8 219.6h0M424.4 217.8h0M419.0 219.5h0M421.5 217.9h0M419.6 221.5h0M420.6 220.0h0M421.3 220.0h0M424.0 221.7h0M418.3 218.7h0M420.5 223.7h0M419.0 223.7h0M422.3 219.2h0M423.9 220.2h0M421.8 220.6h0M419.0 217.8h0M421.0 219.2h0M418.6 179.2h0M418.2 180.6h0M418.8 181.8h0M417.9 183.3h0M418.4 184.6h0M418.1 186.0h0M418.6 187.2h0" fill="none" stroke="#cb0a32" stroke-width="2.3" stroke-linecap="round"/>
<line x1="320" y1="184.5" x2="514.5" y2="184.5" stroke="#383838" stroke-width="1.5" stroke-dasharray="3 2.2"/>
<line x1="320" y1="196.8" x2="514.5" y2="196.8" stroke="#383838" stroke-width="1.5" stroke-dasharray="3 2.2"/>
<line x1="320" y1="209" x2="514.5" y2="209" stroke="#383838" stroke-width="1.5" stroke-dasharray="3 2.2"/>
<line x1="320" y1="220.9" x2="514.5" y2="220.9" stroke="#383838" stroke-width="1.5" stroke-dasharray="3 2.2"/>
<line x1="320" y1="233" x2="514.5" y2="233" stroke="#383838" stroke-width="1.5" stroke-dasharray="3 2.2"/>
<line x1="320" y1="245.2" x2="514.5" y2="245.2" stroke="#383838" stroke-width="1.5" stroke-dasharray="3 2.2"/>
<text x="465" y="229.5" font-size="6" fill="#2a2a2a" stroke="#2a2a2a" stroke-width="0.08">+1 copy gain</text>
<text x="465" y="217.5" font-size="6" fill="#2a2a2a" stroke="#2a2a2a" stroke-width="0.08">+2 copy gain</text>
<text x="465" y="205.5" font-size="6" fill="#2a2a2a" stroke="#2a2a2a" stroke-width="0.08">+3 copy gain</text>
<text x="465" y="193.75" font-size="6" fill="#2a2a2a" stroke="#2a2a2a" stroke-width="0.08">+4 copy gain</text>
<text x="465" y="181.75" font-size="6" fill="#2a2a2a" stroke="#2a2a2a" stroke-width="0.08">+5 copy gain</text>
<text x="413" y="263.6" font-size="6.2" text-anchor="middle" fill="#1a1a1a" stroke="#1a1a1a" stroke-width="0.12">chr11</text>
<rect x="400.5" y="266.05" width="17" height="2.5" fill="#25ab4b"/>
<rect x="417.5" y="266.05" width="7.5" height="2.5" fill="#cb0a32"/>
<rect x="425" y="266.05" width="1.2" height="2.5" fill="#25ab4b"/>
<text x="5.8" y="310.15" font-size="10.6" fill="#000" font-weight="bold" stroke="#000" stroke-width="0.35">E</text>
<text x="142.75" y="310.8" font-size="8.96" text-anchor="middle" fill="#0d0d0d" stroke="#0d0d0d" stroke-width="0.2">PTD with broad copy-neutral LOH</text>
<line x1="45" y1="318.25" x2="45" y2="435" stroke="#0a0a0a" stroke-width="1.45"/>
<line x1="41.9" y1="431.25" x2="45" y2="431.25" stroke="#111" stroke-width="0.9"/>
<text x="39.4" y="433.75" font-size="7.7" text-anchor="end" fill="#000" stroke="#000" stroke-width="0.18">0</text>
<line x1="41.9" y1="403.85" x2="45" y2="403.85" stroke="#111" stroke-width="0.9"/>
<text x="39.4" y="406.35" font-size="7.7" text-anchor="end" fill="#000" stroke="#000" stroke-width="0.18">1</text>
<line x1="41.9" y1="376.45" x2="45" y2="376.45" stroke="#111" stroke-width="0.9"/>
<text x="39.4" y="378.95" font-size="7.7" text-anchor="end" fill="#000" stroke="#000" stroke-width="0.18">2</text>
<line x1="41.9" y1="349.05" x2="45" y2="349.05" stroke="#111" stroke-width="0.9"/>
<text x="39.4" y="351.55" font-size="7.7" text-anchor="end" fill="#000" stroke="#000" stroke-width="0.18">3</text>
<line x1="41.9" y1="321.65" x2="45" y2="321.65" stroke="#111" stroke-width="0.9"/>
<text x="39.4" y="324.15" font-size="7.7" text-anchor="end" fill="#000" stroke="#000" stroke-width="0.18">4</text>
<text transform="translate(28.8,376.5) rotate(-90) scale(0.76,1)" font-size="8.5" text-anchor="middle" fill="#0a0a0a" stroke="#0a0a0a" stroke-width="0.36">Total copy number</text>
<path d="M91.4 374.8h0M102.0 374.4h0M105.4 375.3h0M62.2 373.1h0M101.4 373.1h0M55.6 374.5h0M53.8 377.4h0M101.6 374.1h0M60.1 379.2h0M99.0 377.2h0M55.2 374.9h0M64.1 374.3h0M109.9 379.5h0M79.6 379.2h0M85.5 377.2h0M83.1 376.4h0M80.9 372.0h0M96.7 375.3h0M61.1 382.5h0M111.8 379.0h0M59.0 379.2h0M96.7 377.7h0M93.5 378.3h0M68.2 372.8h0M102.1 373.5h0M118.3 379.9h0M66.1 375.2h0M74.0 380.4h0M77.7 376.8h0M66.3 371.2h0M53.6 376.1h0M67.9 375.4h0M62.2 376.4h0M59.7 379.2h0M92.8 374.7h0M118.5 377.6h0M108.2 367.8h0M95.5 374.5h0M96.3 375.4h0M56.4 373.4h0M92.6 374.9h0M114.0 374.6h0M62.0 373.5h0M111.5 374.0h0M92.0 377.0h0M68.0 373.7h0M92.5 377.5h0M56.5 378.7h0M116.4 381.3h0M100.9 375.8h0M53.3 377.8h0M73.7 379.6h0M63.4 376.5h0M87.0 373.5h0M53.4 374.9h0M70.2 376.7h0M78.1 370.8h0M87.9 375.3h0M90.7 374.5h0M64.6 370.9h0M106.9 374.6h0M81.8 378.1h0M56.1 377.9h0M120.5 378.1h0M106.3 371.4h0M77.1 377.6h0M62.5 374.5h0M109.7 379.1h0M109.2 376.1h0M113.8 380.3h0M113.3 376.3h0M118.0 381.2h0M75.4 372.2h0M113.6 374.6h0M84.9 374.6h0M98.8 375.2h0M113.9 383.3h0M107.6 373.2h0M97.4 375.7h0M68.8 375.9h0M109.8 378.7h0M72.6 374.0h0M52.3 375.9h0M67.6 372.8h0M82.6 379.1h0M54.1 375.8h0M63.4 377.4h0M57.6 380.3h0M94.4 375.6h0M101.8 374.3h0M113.1 378.5h0M107.0 376.0h0M118.6 374.6h0M52.6 375.0h0M81.2 374.6h0M53.8 376.2h0M115.2 377.9h0M111.2 376.5h0M77.1 378.3h0M114.9 376.3h0M98.9 375.3h0M64.2 375.6h0M85.5 379.2h0M87.6 376.8h0M106.8 373.2h0M105.9 375.3h0M119.4 377.7h0M75.7 375.4h0M89.8 376.2h0M105.4 378.3h0M76.7 380.0h0M61.6 378.9h0M64.4 374.9h0M88.9 376.4h0M86.7 376.9h0M75.6 375.8h0M104.2 376.6h0M58.1 376.0h0M110.8 380.0h0M107.9 374.5h0M59.2 378.2h0M69.5 372.9h0M87.1 380.3h0M87.9 374.8h0M115.3 376.3h0M86.2 379.4h0M79.5 379.1h0M117.2 376.2h0M79.7 377.2h0M118.0 377.5h0M71.5 373.2h0M81.4 374.8h0M64.3 379.1h0M95.0 374.2h0M79.2 383.2h0M83.9 373.9h0M116.2 378.7h0M82.1 376.5h0M84.8 374.5h0M57.7 381.5h0M106.7 375.1h0M94.3 374.5h0M74.7 379.5h0M77.1 381.1h0M53.2 377.7h0M79.2 376.0h0M51.9 374.9h0M101.4 376.4h0M78.8 376.6h0M58.7 378.4h0M93.7 377.7h0M64.2 380.3h0M104.3 371.7h0M104.9 375.1h0M52.7 376.6h0M56.9 378.0h0M111.5 377.5h0M108.0 377.6h0M67.8 375.3h0M51.6 372.7h0M120.3 378.4h0M74.7 377.8h0M99.8 375.4h0M95.6 374.2h0M111.6 378.1h0M82.4 374.9h0M117.2 377.7h0M55.9 376.9h0M98.2 375.7h0M71.3 374.2h0M109.1 373.9h0M118.2 376.4h0M95.5 375.4h0M103.2 376.9h0M80.1 370.6h0M114.6 378.1h0M89.3 377.7h0M70.2 373.2h0M91.9 371.4h0M69.3 379.8h0M102.2 372.5h0M101.5 373.3h0M120.1 378.3h0M105.6 377.3h0M109.2 375.4h0M104.3 376.0h0M66.3 372.8h0M87.2 374.1h0M93.2 373.7h0M70.8 376.5h0M102.0 372.7h0M95.3 375.8h0M51.6 375.8h0M79.1 374.1h0M58.7 377.4h0M57.0 377.1h0M114.2 379.5h0M97.2 375.5h0M58.9 377.6h0M61.3 377.8h0M113.4 377.3h0M62.0 375.5h0M99.9 375.1h0M68.8 374.0h0M76.8 375.8h0M96.9 373.8h0M104.3 375.1h0M113.2 378.7h0M83.4 376.5h0M112.4 380.8h0M108.9 377.0h0M98.3 374.5h0M80.7 373.2h0M52.2 378.8h0M75.7 375.5h0M112.1 378.1h0M112.9 380.6h0M75.4 375.5h0M106.7 376.7h0M60.6 373.1h0M99.9 375.5h0M74.7 372.4h0M79.8 379.7h0M118.3 381.8h0M53.0 376.4h0M71.8 382.2h0M72.9 375.1h0M71.2 377.0h0M52.5 377.5h0M66.0 374.8h0M95.1 376.3h0M115.8 376.5h0M107.2 375.6h0M66.2 376.8h0M105.5 374.4h0M71.5 376.1h0M102.4 375.1h0M85.3 377.2h0M60.1 372.4h0M114.0 376.5h0M70.5 374.2h0M101.2 375.0h0M87.0 376.6h0M81.7 375.1h0M93.7 375.4h0M59.9 376.9h0M91.9 376.1h0M63.9 377.2h0M90.2 374.9h0M58.6 375.6h0M116.9 377.6h0M77.4 379.1h0M84.6 374.9h0M115.2 379.3h0M66.0 375.5h0M82.0 374.3h0M70.2 375.5h0M56.0 372.3h0M57.5 378.9h0M67.3 376.5h0M52.9 378.8h0M82.0 375.7h0M106.3 373.3h0M105.5 374.9h0M117.5 377.7h0M119.7 379.7h0M71.8 376.7h0M103.0 374.2h0M112.3 377.7h0M79.5 377.3h0M65.6 376.9h0M59.5 374.8h0M75.0 379.5h0M53.9 378.6h0M116.8 378.5h0M71.3 376.8h0M116.5 381.5h0M107.1 373.3h0M117.7 377.2h0M72.0 374.7h0M67.3 374.2h0M117.2 379.3h0M115.9 378.4h0M99.8 375.9h0M96.7 373.6h0M83.2 374.9h0M99.8 373.0h0M78.2 376.9h0M66.8 377.3h0M85.8 377.0h0M99.2 374.7h0M63.7 375.6h0M83.7 376.8h0M77.7 379.6h0M89.7 376.8h0M111.8 376.1h0M75.1 375.9h0M87.5 375.2h0M119.4 378.6h0M116.8 377.7h0M99.9 374.5h0M76.3 376.8h0M116.5 378.0h0M72.1 377.0h0M109.5 379.7h0M109.7 375.9h0M61.8 377.7h0M54.7 377.7h0M80.9 377.3h0M56.6 376.1h0M82.6 378.5h0M120.1 376.2h0M74.1 375.9h0M95.9 375.6h0M83.9 378.2h0M69.9 376.3h0M67.2 375.4h0M56.3 374.2h0M59.0 377.5h0M83.7 375.1h0M57.0 375.6h0M91.7 377.7h0M67.9 377.1h0M66.8 375.9h0M102.5 371.3h0M94.8 375.3h0M107.9 374.5h0M83.3 376.2h0M72.4 378.5h0M93.5 376.6h0M105.3 373.9h0M59.5 377.7h0M72.5 375.4h0M90.5 380.2h0M56.2 373.7h0M85.1 377.1h0M51.8 374.5h0M118.1 377.4h0M102.7 374.8h0M112.1 378.0h0M69.9 376.7h0M71.9 377.8h0M82.5 373.6h0M54.6 374.2h0M70.0 375.7h0M75.4 378.5h0M51.7 378.0h0M65.7 374.7h0M97.3 376.3h0M87.6 379.2h0M110.8 376.9h0M92.9 375.3h0M111.4 374.8h0M115.0 379.8h0M100.7 376.9h0M76.4 378.8h0M67.2 375.9h0M57.3 377.0h0M94.0 376.6h0M74.2 378.8h0M78.2 375.3h0M61.9 374.4h0M82.6 380.4h0M116.4 379.1h0M92.9 377.7h0M72.3 371.0h0M53.6 377.4h0M85.6 373.6h0M96.7 374.6h0M94.0 375.1h0M66.6 376.7h0M77.4 379.4h0M100.6 372.8h0M76.7 379.1h0M96.4 373.0h0M101.8 372.6h0M107.6 373.9h0M73.4 377.3h0M108.7 377.1h0M99.1 377.4h0M91.9 375.7h0M96.9 376.9h0M60.3 375.2h0M118.4 379.2h0M87.4 380.8h0M112.4 376.3h0M73.6 375.2h0M119.8 379.0h0M56.3 378.0h0M82.7 378.4h0M109.7 378.7h0M75.0 375.3h0M108.3 373.1h0M75.0 375.5h0M95.0 376.4h0M106.2 375.7h0M116.2 379.2h0M120.2 378.8h0M91.0 377.0h0M52.6 373.8h0M73.4 375.2h0M65.1 378.0h0M93.8 375.0h0M96.0 374.3h0M75.2 372.8h0M107.7 373.6h0M110.8 378.7h0M84.9 375.2h0M53.2 372.8h0M80.1 378.9h0M96.5 377.4h0M93.8 375.9h0M90.6 374.0h0M64.1 377.5h0M70.2 377.5h0M71.9 376.5h0M54.7 377.1h0M101.6 376.8h0M79.8 378.7h0M61.7 380.3h0M53.6 376.0h0M94.6 376.2h0M99.8 374.4h0M85.8 378.9h0M116.1 377.6h0M57.2 375.3h0M53.0 377.4h0M98.5 377.1h0M78.0 377.9h0M68.1 376.0h0M95.6 377.7h0M62.8 375.8h0M59.4 377.8h0M107.9 374.9h0M91.5 376.2h0M117.9 377.3h0M116.5 378.4h0M81.2 380.9h0M109.5 377.4h0M52.4 371.0h0M114.7 381.4h0M103.2 376.3h0M78.5 377.4h0M80.5 374.9h0M86.8 377.9h0M70.6 378.1h0M66.2 375.2h0M79.6 376.9h0M66.5 373.6h0M89.8 374.8h0M111.3 381.0h0M118.6 378.5h0M105.6 374.9h0M108.7 378.6h0M90.3 373.3h0M59.1 373.6h0M90.6 376.0h0M61.3 373.9h0M53.5 372.3h0M84.6 375.3h0M57.1 378.2h0M52.7 375.5h0M98.1 374.2h0M110.4 375.3h0M103.4 372.5h0M82.8 377.9h0M75.2 376.6h0M91.5 377.3h0M94.4 375.1h0M88.7 373.1h0M98.0 375.6h0M108.7 373.2h0M114.2 378.1h0M77.7 376.5h0M54.4 375.0h0M80.5 375.7h0M55.8 374.1h0M78.5 373.7h0M88.0 376.6h0M61.8 380.3h0M115.3 379.4h0M109.5 372.1h0M59.0 374.1h0M55.9 377.6h0M52.3 376.0h0M106.2 377.1h0M118.4 379.2h0M108.6 378.6h0M116.4 379.0h0M99.4 374.4h0M86.5 374.2h0M106.2 373.0h0M72.4 377.5h0M89.4 376.7h0M58.1 375.5h0M119.5 378.2h0M120.2 379.0h0M52.5 373.7h0M86.6 371.9h0M59.2 376.0h0M113.8 372.7h0M95.9 375.1h0M79.9 376.3h0M59.4 376.4h0M112.2 377.4h0M94.0 375.5h0M68.2 377.9h0M95.5 376.3h0M91.9 373.9h0M82.5 380.7h0M100.6 374.8h0M82.8 377.0h0M109.3 382.4h0M86.6 377.5h0M68.2 374.7h0M63.0 376.4h0M107.6 375.7h0M59.8 378.1h0M114.3 378.0h0M88.6 376.0h0M62.4 375.8h0M108.2 375.6h0M69.6 375.0h0M89.6 375.7h0M105.6 370.9h0M102.9 372.5h0M97.1 377.2h0M77.9 375.6h0M61.9 370.5h0M77.8 379.7h0M109.6 382.7h0M74.3 375.3h0M58.0 378.4h0M66.4 378.2h0M64.8 376.4h0M110.8 376.7h0M89.1 376.6h0M96.4 375.8h0M84.8 375.0h0M60.3 376.6h0M211.3 378.3h0M155.0 375.0h0M195.0 376.1h0M203.5 376.3h0M186.8 379.6h0M182.2 378.1h0M212.2 375.4h0M188.7 375.4h0M179.6 374.4h0M190.4 375.9h0M228.6 381.6h0M231.9 376.0h0M188.5 376.8h0M192.6 376.3h0M199.7 376.3h0M215.0 377.9h0M192.2 375.7h0M168.6 374.0h0M175.2 378.8h0M147.0 378.3h0M145.9 376.1h0M142.9 374.2h0M218.5 376.2h0M204.3 377.5h0M191.8 375.4h0M159.2 378.6h0M219.2 373.3h0M207.0 377.9h0M171.6 378.8h0M170.7 377.4h0M159.2 378.4h0M215.6 379.3h0M143.9 374.8h0M194.2 371.8h0M202.0 377.8h0M139.4 378.0h0M161.2 378.7h0M227.4 377.4h0M166.3 378.1h0M163.6 374.9h0M159.7 374.6h0M140.4 377.8h0M195.8 375.0h0M195.0 375.3h0M159.2 377.4h0M190.7 379.3h0M176.4 379.0h0M136.3 376.4h0M226.3 377.3h0M157.8 379.4h0M207.3 373.8h0M147.2 375.5h0M227.6 374.1h0M151.5 375.0h0M218.7 379.1h0M219.7 372.1h0M152.6 378.8h0M162.8 377.3h0M208.8 376.1h0M190.2 376.4h0M186.1 374.1h0M222.6 373.5h0M188.0 376.0h0M185.1 374.7h0M226.8 375.2h0M139.7 376.5h0M218.7 378.1h0M184.9 379.3h0M198.7 376.3h0M140.2 378.0h0M150.8 382.4h0M221.9 370.6h0M174.4 375.1h0M227.8 375.7h0M144.5 376.7h0M211.6 378.8h0M171.3 376.9h0M148.8 375.6h0M207.2 375.5h0M191.3 376.5h0M146.4 376.9h0M191.9 375.7h0M141.5 379.0h0M204.0 377.2h0M197.3 375.2h0M177.4 376.9h0M189.3 376.6h0M152.4 375.9h0M162.4 377.1h0M214.6 376.5h0M168.3 380.7h0M205.4 377.4h0M219.2 377.5h0M210.0 376.3h0M228.0 376.1h0M174.9 372.9h0M207.7 375.5h0M184.1 376.1h0M211.0 374.6h0M200.5 378.5h0M185.1 373.4h0M156.9 374.0h0M174.1 379.0h0M174.6 378.2h0M180.1 375.7h0M185.2 376.3h0M142.5 378.4h0M197.3 383.2h0M142.6 375.5h0M210.2 377.8h0M137.2 375.1h0M226.1 373.4h0M181.4 376.3h0M229.7 375.5h0M225.2 373.9h0M161.0 380.3h0M223.6 373.0h0M174.2 378.6h0M182.0 372.0h0M150.9 372.7h0M208.9 375.3h0M186.8 375.1h0M190.7 375.9h0M172.7 373.6h0M142.0 376.2h0M145.1 375.5h0M140.9 377.5h0M167.7 375.4h0M207.0 376.0h0M200.5 373.5h0M201.4 379.0h0M140.5 374.8h0M154.4 375.4h0M149.5 374.1h0M196.3 375.9h0M205.4 377.6h0M197.1 378.5h0M204.4 377.9h0M207.9 370.8h0M150.5 376.3h0M225.9 374.9h0M198.6 377.7h0M209.4 375.9h0M194.5 374.3h0M151.4 376.4h0M227.3 375.0h0M136.0 373.6h0M177.6 376.0h0M201.3 376.3h0M222.8 375.5h0M159.3 378.4h0M213.0 375.6h0M202.6 378.7h0M175.2 375.3h0M214.6 374.9h0M154.1 373.5h0M173.3 375.5h0M219.5 375.9h0M151.7 379.0h0M147.3 377.7h0M174.4 373.5h0M227.3 374.5h0M199.7 376.3h0M156.4 373.2h0M228.1 375.3h0M167.1 373.8h0M151.7 375.4h0M157.0 377.2h0M136.9 375.0h0M169.9 373.9h0M177.6 375.0h0M201.7 373.9h0M183.9 374.7h0M195.5 376.9h0M158.3 375.9h0M184.9 374.7h0M219.6 377.0h0M147.1 377.0h0M151.6 379.9h0M186.3 376.2h0M230.2 376.5h0M164.2 377.0h0M175.4 373.4h0M229.6 376.6h0M141.5 375.6h0M191.3 376.3h0M137.2 377.6h0M188.2 376.4h0M225.1 372.1h0M183.0 375.9h0M191.2 374.3h0M149.6 374.7h0M174.0 373.9h0M139.7 378.0h0M232.4 376.5h0M216.1 376.8h0M224.6 377.2h0M152.5 382.4h0M179.4 376.9h0M146.0 376.5h0M159.4 374.8h0M194.0 375.4h0M209.4 377.6h0M165.9 378.4h0M196.6 377.2h0M211.1 377.5h0M215.2 379.8h0M229.0 376.6h0M219.7 375.4h0M208.9 376.1h0M203.7 376.1h0M181.1 376.3h0M221.4 380.5h0M190.0 376.3h0M140.0 375.7h0M187.9 375.6h0M198.9 382.4h0M141.1 374.4h0M156.6 376.4h0M174.2 373.3h0M165.0 375.1h0M176.7 380.7h0M140.7 376.6h0M200.2 378.1h0M223.9 376.9h0M196.3 376.4h0M180.1 378.0h0M167.1 376.4h0M184.8 377.6h0M222.5 372.9h0M147.2 376.9h0M198.2 379.1h0M208.8 376.5h0M188.8 377.4h0M217.5 377.0h0M216.1 377.0h0M197.2 378.5h0M165.1 378.2h0M175.2 374.9h0M148.7 375.3h0M205.4 377.8h0M145.0 374.4h0M208.1 375.1h0M171.0 375.7h0M203.6 374.3h0M185.5 375.1h0M175.1 380.2h0M186.4 377.4h0M173.9 372.4h0M172.5 376.1h0M154.7 373.8h0M179.1 375.2h0M225.1 376.8h0M175.8 376.5h0M213.8 377.8h0M191.1 377.1h0M200.8 381.4h0M205.3 375.5h0M207.2 373.2h0M201.2 376.5h0M216.6 377.2h0M182.9 375.7h0M164.9 377.4h0M159.4 378.0h0M160.7 378.0h0M190.4 374.8h0M146.3 373.4h0M164.9 375.9h0M203.9 376.1h0M166.0 378.8h0M205.6 376.1h0M202.3 378.7h0M231.6 374.8h0M201.1 378.2h0M212.6 373.5h0M206.6 377.1h0M139.0 375.0h0M171.6 370.8h0M176.4 376.0h0M180.9 374.4h0M185.6 378.9h0M211.1 375.7h0M226.5 378.0h0M196.4 378.2h0M178.1 375.3h0M143.3 375.0h0M225.8 371.1h0M166.3 378.1h0M162.8 379.6h0M202.6 375.8h0M161.0 375.2h0M200.8 377.9h0M147.8 377.6h0M186.1 376.3h0M168.7 376.1h0M228.2 375.2h0M229.7 373.6h0M182.0 378.9h0M148.7 376.5h0M162.1 377.5h0M157.6 373.9h0M215.3 375.8h0M220.5 375.5h0M159.5 377.9h0M190.1 373.7h0M189.5 376.8h0M155.8 379.3h0M142.6 376.1h0M201.8 376.3h0M229.4 373.3h0M224.7 375.9h0M160.3 373.6h0M203.9 375.6h0M154.7 375.5h0M139.7 376.1h0M160.0 378.8h0M195.9 378.0h0M228.3 381.0h0M184.7 372.8h0M153.1 377.8h0M185.2 375.6h0M169.6 374.8h0M165.9 374.5h0M197.4 378.4h0M175.6 377.0h0M197.5 378.6h0M227.3 378.2h0M212.4 372.6h0M200.8 375.6h0M187.6 380.6h0M195.5 375.8h0M139.8 378.4h0M198.4 376.9h0M146.5 372.0h0M140.1 376.6h0M178.1 378.3h0M178.8 378.1h0M209.3 375.1h0M215.0 377.0h0M181.6 375.2h0M139.2 376.4h0M136.9 374.3h0M158.4 379.3h0M170.7 374.9h0M198.8 375.6h0M205.6 376.3h0M146.0 377.6h0M199.0 379.2h0M188.1 376.6h0M219.5 375.8h0M199.9 376.0h0M230.7 377.1h0M139.0 374.5h0M168.4 375.8h0M151.3 375.5h0M161.3 376.6h0M175.0 373.1h0M164.8 377.3h0M179.4 372.2h0M170.2 371.8h0M159.1 376.9h0M143.7 381.0h0M181.0 375.9h0M148.2 378.1h0M228.1 372.7h0M203.7 376.9h0M157.0 375.3h0M216.2 383.0h0M144.0 376.9h0M205.5 373.8h0M185.6 377.4h0M178.9 380.5h0M220.4 371.9h0M145.7 378.4h0M224.4 377.5h0M229.0 371.2h0M214.6 376.0h0M169.7 375.5h0M169.5 375.8h0M197.9 376.0h0M167.3 375.3h0M212.4 375.0h0M228.5 374.7h0M192.1 375.2h0M177.2 376.4h0M185.1 375.8h0M192.9 375.8h0M196.8 376.1h0M148.0 373.2h0M215.4 371.8h0M221.1 373.6h0M165.7 377.1h0M175.8 377.1h0M151.9 373.2h0M185.0 375.8h0M159.9 376.2h0M200.9 375.3h0M211.7 376.7h0M168.4 376.2h0M197.4 377.1h0M185.3 375.0h0M175.8 375.0h0M215.4 376.5h0M150.1 376.7h0M183.2 373.8h0M157.4 381.2h0M231.4 374.7h0M140.3 378.6h0M166.9 374.7h0M178.7 379.3h0M160.7 376.0h0M228.2 373.8h0M195.0 377.2h0M217.0 377.8h0M202.0 372.1h0M163.9 378.0h0M226.0 376.8h0M187.2 375.6h0M209.7 377.1h0M205.2 377.1h0M184.3 373.8h0M217.4 378.0h0M197.0 375.7h0M202.9 375.3h0M197.4 376.5h0M168.9 376.5h0M151.5 378.8h0M136.1 377.5h0M202.3 376.7h0M158.2 377.9h0M159.3 377.3h0M183.2 373.2h0M188.0 375.2h0M182.4 377.4h0M210.3 378.8h0M135.6 373.9h0M215.6 376.9h0M161.6 375.4h0M193.7 377.3h0M153.9 375.6h0M194.8 378.8h0M190.9 376.6h0M186.4 375.7h0M182.4 374.3h0M151.2 377.2h0M166.1 372.9h0M153.2 370.8h0M150.2 373.7h0M185.8 376.1h0M161.6 376.5h0M153.1 376.0h0M170.0 378.8h0M229.7 371.2h0M222.0 376.1h0M177.9 376.6h0M218.0 375.2h0M185.8 374.0h0M156.4 378.5h0M149.6 374.2h0M190.1 375.3h0M135.8 376.6h0M191.5 375.8h0M202.6 374.7h0M145.9 374.2h0M222.7 373.5h0M152.3 374.6h0M166.3 377.3h0M204.0 376.2h0M153.0 375.3h0M174.8 374.7h0M171.4 376.9h0M205.9 376.1h0M216.6 378.9h0M169.3 371.0h0M226.0 373.4h0M205.4 377.9h0M181.6 374.5h0M222.3 372.3h0M210.1 374.7h0M140.5 377.4h0M225.7 375.0h0M184.5 375.8h0M140.7 376.0h0M212.9 377.1h0M230.0 376.1h0M231.3 375.4h0M189.9 376.3h0M230.9 374.2h0M164.3 381.3h0M154.9 374.2h0M206.9 377.2h0M175.8 373.6h0M180.4 377.4h0M221.6 373.6h0M142.0 377.5h0M202.2 374.9h0M202.1 378.6h0M139.7 376.1h0M160.7 376.8h0M232.3 376.4h0M197.4 376.3h0M179.7 375.2h0M227.2 369.8h0M225.8 376.9h0M173.4 379.1h0M205.9 372.5h0M178.6 378.4h0M163.8 381.5h0M217.5 374.7h0M208.7 374.8h0M183.9 375.4h0M164.1 378.1h0M224.7 373.2h0M178.3 376.5h0M218.5 376.2h0M183.8 377.5h0M166.8 382.5h0M198.2 376.6h0M173.2 375.6h0M194.1 375.5h0M138.0 374.5h0M213.9 375.7h0M142.6 376.9h0M195.7 377.4h0M196.4 377.3h0M185.4 374.2h0M224.6 374.2h0M188.1 375.3h0M198.2 377.2h0M213.6 377.5h0M173.3 373.2h0M143.5 374.6h0M173.9 378.2h0M179.2 379.1h0M215.9 375.2h0M207.6 380.5h0M227.8 372.3h0M162.0 375.2h0M223.5 376.2h0M139.3 371.7h0M168.3 376.6h0M155.5 376.9h0M161.4 377.9h0M208.1 376.5h0M185.9 375.7h0M162.2 375.8h0M223.3 376.2h0M138.9 376.6h0M192.1 376.4h0M138.0 376.3h0M190.6 376.8h0M216.1 376.4h0M143.7 376.3h0M165.5 378.0h0M185.8 376.5h0M147.5 376.8h0M157.7 379.5h0M226.5 375.2h0M159.3 379.7h0M182.4 376.7h0M210.7 375.9h0M206.6 378.2h0M159.4 379.9h0M170.1 373.9h0M228.5 377.1h0M225.2 374.4h0M229.0 373.9h0M217.2 377.3h0M215.3 373.6h0M226.8 376.2h0M217.4 377.7h0M182.9 374.5h0M223.4 374.4h0M169.2 376.2h0M147.5 381.5h0M159.5 381.4h0M200.3 378.6h0M172.5 375.3h0M143.2 375.8h0M140.7 377.4h0M214.0 373.2h0M193.1 377.1h0M135.8 373.9h0M190.5 377.4h0M142.8 377.5h0M152.4 374.4h0M224.2 376.2h0M146.6 375.9h0M231.0 378.7h0M205.5 377.3h0M160.3 377.0h0M153.8 374.3h0M202.6 376.5h0M141.3 377.1h0M230.5 378.8h0M168.2 377.4h0M220.8 371.2h0M213.6 376.2h0M137.7 375.8h0M225.4 374.5h0M160.9 377.5h0M180.5 377.0h0M140.6 378.7h0M172.8 377.0h0M176.0 375.9h0M156.8 377.8h0M138.4 376.0h0M187.4 374.3h0M150.0 376.1h0M182.3 375.9h0M207.5 377.4h0M200.8 383.7h0M155.0 377.5h0M176.3 377.6h0M181.4 375.5h0M218.6 379.3h0M142.0 378.9h0M202.6 382.4h0M171.9 375.2h0M203.8 378.9h0M188.2 375.5h0M196.5 375.8h0M229.1 377.2h0M214.1 374.3h0M150.1 374.1h0M194.3 378.6h0M147.4 378.3h0M229.6 375.5h0M149.7 375.4h0M200.4 378.0h0M142.9 377.6h0M178.0 376.6h0M147.2 376.2h0M159.3 373.9h0M229.3 374.3h0M143.8 377.7h0M200.7 381.1h0M183.4 376.3h0M168.4 378.8h0M151.1 378.5h0M222.6 376.3h0M188.2 378.2h0M166.6 377.7h0M225.3 374.9h0M174.0 375.6h0M140.7 377.9h0M194.6 375.1h0M139.7 376.4h0M186.3 375.8h0M163.9 382.3h0M161.1 378.4h0M217.0 380.5h0M185.1 377.2h0M177.9 380.1h0M160.6 377.1h0M218.0 376.5h0M143.0 378.4h0M143.4 375.8h0M213.5 376.4h0M185.2 378.3h0M162.1 378.7h0M184.0 372.8h0M136.7 375.2h0M228.9 372.1h0M185.1 373.8h0M178.5 374.0h0M136.3 377.0h0M143.3 373.6h0M160.7 378.2h0M163.0 378.4h0M217.4 374.7h0M198.2 378.0h0M180.4 374.7h0M171.8 370.6h0M137.4 373.9h0M154.1 376.4h0M178.1 377.8h0M180.4 380.1h0M181.5 374.3h0M219.4 375.7h0M137.9 377.2h0M219.5 375.7h0M223.7 370.9h0M189.1 375.9h0M183.2 374.0h0M207.2 378.3h0M207.8 375.8h0M194.2 381.2h0M216.8 377.8h0M167.7 375.3h0M216.2 376.6h0M229.6 376.8h0M205.7 378.8h0M159.8 377.2h0M196.7 375.3h0M193.4 375.2h0M181.3 372.6h0M154.8 378.4h0M137.6 376.7h0M169.4 376.0h0M148.3 373.5h0M141.5 377.4h0M215.7 376.1h0M182.8 374.2h0M159.5 374.7h0M186.1 377.6h0M167.0 378.1h0M227.6 377.4h0M222.6 375.8h0M232.5 374.8h0M221.3 376.2h0M164.3 377.7h0M210.2 376.4h0M171.5 376.6h0M196.6 380.0h0M230.9 377.5h0M213.3 376.9h0M222.2 377.8h0M181.4 373.7h0M146.3 375.4h0M204.7 381.7h0M210.5 374.8h0M163.8 378.7h0M142.6 375.1h0M196.4 376.2h0M156.2 375.9h0M143.0 379.2h0M192.4 376.2h0M230.9 379.3h0M141.8 376.5h0M198.1 378.0h0M138.9 376.9h0M137.1 377.0h0M223.0 373.0h0M187.1 376.6h0M206.9 379.0h0M149.4 372.2h0M143.6 374.6h0M148.4 375.5h0M159.4 378.0h0M170.1 370.7h0M147.9 379.3h0M146.2 375.8h0M194.9 377.9h0M158.5 377.8h0M202.2 376.7h0M145.7 377.4h0M189.1 378.8h0M160.5 379.1h0M179.5 375.2h0M174.9 372.0h0M197.8 373.3h0M223.2 377.9h0M221.8 373.8h0M172.3 376.6h0M177.3 379.5h0M223.8 373.6h0M158.4 374.3h0M180.1 372.4h0M217.6 376.4h0M163.2 378.8h0M195.0 375.2h0M175.8 376.6h0M211.4 377.8h0M204.4 381.1h0M208.3 378.3h0M190.1 373.3h0M207.6 373.6h0M221.4 378.2h0M157.2 375.6h0M223.7 358.0h0M186.0 366.5h0M194.0 368.5h0M218.5 372.0h0M226.5 367.5h0M75.0 369.0h0M62.0 385.0h0M103.5 384.5h0M141.5 385.5h0M224.0 385.0h0M157.0 384.0h0M165.0 369.5h0" fill="none" stroke="#124e8a" stroke-width="2.4" stroke-linecap="round"/>
<path d="M126.1 377.4h0M127.9 379.0h0M130.0 381.1h0M129.6 377.3h0M123.2 374.7h0M125.9 375.7h0M125.9 374.1h0M129.7 375.0h0M126.9 371.5h0M122.0 379.5h0M127.2 376.7h0M123.4 379.2h0M128.6 377.5h0M130.8 378.9h0M123.5 377.8h0M125.9 373.6h0M130.3 375.0h0M125.3 378.1h0M129.6 375.6h0M127.1 379.0h0M128.0 376.7h0M124.7 375.0h0M127.6 377.9h0M126.1 373.6h0M121.8 376.1h0M124.0 380.8h0M129.6 376.5h0M126.4 373.1h0M127.7 374.5h0M125.8 375.0h0M130.8 379.7h0M131.2 375.8h0M128.0 377.8h0M127.5 371.9h0M130.2 378.1h0M127.5 379.4h0M125.4 377.3h0M129.7 374.9h0M122.3 379.1h0M122.5 375.6h0M128.5 376.9h0M124.8 377.0h0M125.5 378.9h0M122.9 372.7h0M130.3 376.0h0M123.7 377.1h0M130.0 377.0h0M129.0 377.6h0M127.1 378.5h0M129.9 375.7h0M129.1 371.0h0M126.2 379.0h0M126.7 372.4h0M122.1 377.5h0M131.1 375.5h0M121.7 378.2h0M123.3 373.0h0M129.7 378.7h0M127.4 374.2h0M122.8 378.5h0M128.7 377.6h0M126.9 377.7h0M126.6 377.8h0M121.7 376.0h0M128.9 378.4h0M125.0 377.3h0M127.9 380.6h0M127.9 378.3h0M125.9 373.9h0M122.6 374.1h0" fill="none" stroke="#25ab4b" stroke-width="2.4" stroke-linecap="round"/>
<path d="M133.9 370.9h0M133.7 371.8h0M133.1 372.7h0M132.8 373.7h0M133.0 374.5h0M133.8 376.0h0M133.3 376.9h0M134.8 377.6h0M133.5 335.9h0M133.2 339.4h0M133.8 340.8h0M132.9 342.2h0M133.5 343.3h0M134.0 344.4h0M133.1 345.5h0M133.6 346.8h0M133.3 348.2h0" fill="none" stroke="#cb0a32" stroke-width="2.3" stroke-linecap="round"/>
<line x1="45.5" y1="343.5" x2="239.5" y2="343.5" stroke="#111" stroke-width="0.95" stroke-dasharray="3.7 1.5"/>
<line x1="45.5" y1="376.5" x2="239.5" y2="376.5" stroke="#111" stroke-width="0.95" stroke-dasharray="3.7 1.5"/>
<text x="128.9" y="389.3" font-size="6.2" text-anchor="middle" fill="#1a1a1a" stroke="#1a1a1a" stroke-width="0.12">chr11</text>
<rect x="121.8" y="390.15" width="11.3" height="2.5" fill="#25ab4b"/>
<rect x="133.1" y="390.15" width="2.6" height="2.5" fill="#cb0a32"/>
<line x1="121.8" y1="392.6" x2="107" y2="410" stroke="#1a1a1a" stroke-width="1" stroke-dasharray="3.2 1.8"/>
<line x1="135.7" y1="392.6" x2="153.75" y2="410" stroke="#1a1a1a" stroke-width="1" stroke-dasharray="3.2 1.8"/>
<rect x="107" y="409.5" width="46.75" height="21.8" fill="#fff" stroke="#111" stroke-width="1"/>
<path d="M118.6 430.8h0M139.1 430.7h0M116.3 430.9h0M140.0 430.7h0M127.6 431.2h0M121.7 430.9h0M112.5 430.7h0M113.1 430.8h0M139.1 430.8h0M121.1 430.8h0M121.0 431.0h0M150.2 431.1h0M132.1 431.0h0M148.8 431.2h0M144.7 431.0h0M139.0 431.3h0M115.9 430.7h0M124.9 430.8h0M142.3 431.1h0M128.3 430.9h0M150.6 431.2h0M122.9 430.9h0M116.8 430.9h0M110.7 431.1h0M149.3 431.0h0M148.5 430.8h0M111.9 430.9h0M123.9 430.7h0M112.9 431.3h0M109.9 430.7h0M110.6 431.1h0M129.9 431.1h0M115.9 431.0h0M150.4 431.1h0M109.7 431.2h0M110.6 430.6h0M151.4 431.3h0M130.1 430.6h0M148.1 431.2h0M116.2 431.2h0M150.7 430.8h0M118.3 430.8h0M134.7 430.7h0M135.4 430.7h0M130.0 430.9h0M135.3 431.2h0M128.1 431.0h0M130.6 430.7h0M108.0 430.7h0M148.6 430.6h0M140.8 431.2h0M129.4 431.0h0M120.3 430.6h0M119.8 431.3h0M113.1 431.0h0M116.9 430.8h0M124.5 431.0h0M116.7 431.0h0M113.8 431.2h0M149.1 430.9h0M133.2 430.8h0M123.8 430.7h0M119.5 431.3h0M124.8 430.6h0M118.6 431.1h0M113.4 430.7h0M148.8 431.1h0M123.1 430.7h0M129.9 431.1h0M132.0 431.1h0M149.3 430.7h0M145.6 431.3h0M116.9 430.6h0M140.9 431.1h0M118.6 430.8h0M120.3 431.3h0M142.9 431.2h0M113.6 430.9h0M152.6 431.0h0M123.7 430.9h0M134.6 430.7h0M145.2 430.7h0M116.2 431.3h0M140.2 430.7h0M119.4 431.0h0M128.6 430.6h0M139.9 430.8h0M114.9 431.1h0M145.0 430.8h0M132.5 430.9h0M147.1 431.1h0M121.4 431.0h0M121.2 431.2h0M149.4 430.8h0M130.0 430.8h0M128.8 431.1h0M145.6 431.0h0M118.3 430.9h0M114.5 430.7h0M149.7 431.0h0M136.2 431.1h0M144.3 430.8h0M151.2 431.2h0M119.9 430.6h0M109.2 430.8h0M140.0 430.6h0M120.9 430.9h0M152.8 431.0h0M135.0 431.3h0M126.0 430.6h0M152.2 430.7h0M131.8 430.9h0M150.1 431.1h0M120.5 430.6h0M129.5 431.2h0M139.7 431.2h0M123.8 430.7h0M141.3 431.1h0M140.7 430.7h0M123.4 430.9h0M138.2 430.7h0M110.8 430.9h0M128.8 431.1h0M126.3 430.7h0M112.4 431.1h0M116.3 430.9h0M140.4 431.2h0M150.5 431.1h0M141.1 430.7h0M108.1 430.8h0M127.9 430.7h0M115.9 431.1h0M140.1 430.9h0M127.6 430.9h0M131.0 431.2h0M117.8 430.7h0M130.9 431.1h0M113.3 431.1h0M110.7 430.9h0M120.2 431.2h0M110.5 430.8h0M128.4 430.7h0M112.3 430.9h0M144.9 431.0h0M151.5 431.0h0M127.0 430.7h0M127.5 430.9h0M145.2 431.3h0M112.3 431.1h0M150.9 431.1h0M136.5 430.7h0M148.1 431.3h0M134.2 430.8h0M125.2 431.3h0M133.2 431.0h0M108.2 431.0h0M143.0 431.1h0M148.5 430.9h0M124.6 431.2h0M149.5 430.8h0M127.4 431.0h0M123.2 431.1h0M142.7 430.9h0M124.7 430.8h0M148.3 431.1h0M125.2 431.0h0M137.9 431.0h0M108.2 431.0h0M124.8 431.1h0M136.3 431.2h0M134.7 430.7h0M134.1 431.2h0M137.0 431.2h0M139.4 430.7h0M117.2 430.8h0M119.5 430.7h0M114.1 430.9h0M112.7 431.2h0M152.1 430.6h0M147.8 430.8h0M108.8 430.7h0M135.2 431.3h0M114.6 430.9h0M142.2 430.9h0M111.4 430.7h0M131.9 431.3h0M113.0 430.9h0M127.5 430.8h0M132.5 430.9h0M120.9 431.2h0M131.2 431.2h0M113.2 431.3h0M127.5 430.9h0M119.4 430.8h0M109.9 430.8h0M145.5 430.8h0M139.1 431.1h0M122.5 430.9h0M138.5 430.8h0M136.0 431.1h0M144.3 431.1h0M124.9 430.9h0M133.5 430.6h0M142.3 430.9h0M149.2 430.7h0M110.8 430.7h0M142.4 430.6h0M145.2 431.2h0M128.4 431.2h0M125.8 431.1h0M113.2 430.9h0M112.7 431.1h0M130.8 430.6h0M115.5 430.9h0M144.7 431.2h0M151.5 431.0h0M128.3 431.3h0M111.4 431.0h0M129.4 431.0h0M138.6 430.9h0M115.9 430.9h0M117.6 430.9h0M131.7 430.9h0M152.1 431.0h0M116.3 431.2h0M127.5 431.2h0M149.2 431.2h0M132.8 431.2h0M120.6 430.9h0M110.4 430.8h0M152.0 431.2h0M119.3 431.1h0M109.1 430.7h0M136.0 431.2h0M108.9 430.9h0M116.5 430.7h0M145.4 431.1h0M141.4 431.3h0M150.8 431.3h0M148.6 430.6h0" fill="none" stroke="#25ab4b" stroke-width="1.6" stroke-linecap="round"/>
<path d="M146.8 410.9h0M122.0 410.7h0M146.1 411.1h0M145.0 411.0h0M144.4 411.0h0M141.1 411.1h0M144.4 410.8h0M121.5 410.7h0M145.1 411.0h0M141.7 410.7h0M145.0 410.7h0M120.5 410.8h0M133.9 411.0h0M135.7 411.1h0M131.4 410.5h0M137.8 410.6h0M139.0 410.6h0M144.6 410.6h0M129.0 410.9h0M146.8 410.5h0M131.8 410.6h0M128.6 410.6h0M146.3 410.8h0M129.5 410.9h0M134.8 410.5h0M121.1 410.5h0M128.2 411.0h0M144.1 410.8h0M144.8 410.5h0M135.7 410.7h0M136.8 410.5h0M122.6 410.8h0M145.7 410.7h0M121.0 411.0h0M134.0 410.8h0M135.2 411.0h0M121.5 411.0h0M135.4 410.6h0M130.0 410.9h0M146.0 410.7h0" fill="none" stroke="#25ab4b" stroke-width="1.6" stroke-linecap="round"/>
<path d="M109.3 419.7h0M113.2 420.4h0M117.8 421.7h0M112.0 419.6h0M111.2 419.3h0M113.7 419.9h0M109.4 419.8h0M114.6 420.6h0M108.9 419.8h0M115.3 421.6h0M110.4 420.0h0M113.2 420.5h0" fill="none" stroke="#25ab4b" stroke-width="1.8" stroke-linecap="round"/>
<path d="M124.1 423.8h0M121.5 423.1h0M121.1 425.7h0M121.4 425.6h0M121.4 424.9h0M123.0 426.3h0M122.9 424.5h0M123.1 423.9h0M124.0 423.4h0M123.1 424.0h0M122.8 424.6h0M121.9 424.3h0" fill="none" stroke="#25ab4b" stroke-width="1.8" stroke-linecap="round"/>
<path d="M123.9 415.5h0M120.7 417.4h0M121.7 416.6h0M123.1 416.3h0M123.5 415.5h0M121.9 416.9h0M122.3 415.9h0M120.2 417.8h0" fill="none" stroke="#25ab4b" stroke-width="1.8" stroke-linecap="round"/>
<path d="M146.5 426.2h0M147.9 425.5h0M147.7 424.7h0M148.3 425.5h0M148.3 424.7h0M145.7 424.8h0M148.7 424.1h0M145.3 426.1h0M148.1 424.9h0M147.4 425.8h0" fill="none" stroke="#25ab4b" stroke-width="1.8" stroke-linecap="round"/>
<path d="M152.3 417.0h0M151.2 417.4h0M151.5 417.0h0" fill="none" stroke="#25ab4b" stroke-width="1.8" stroke-linecap="round"/>
<line x1="103.7" y1="410" x2="107" y2="410" stroke="#1a1a1a" stroke-width="0.8"/>
<text x="101" y="412.3" font-size="6.2" text-anchor="end" fill="#1a1a1a" stroke="#1a1a1a" stroke-width="0.12">1</text>
<line x1="103.7" y1="420.5" x2="107" y2="420.5" stroke="#1a1a1a" stroke-width="0.8"/>
<text x="101" y="422.8" font-size="6.2" text-anchor="end" fill="#1a1a1a" stroke="#1a1a1a" stroke-width="0.12">0.5</text>
<line x1="103.7" y1="431" x2="107" y2="431" stroke="#1a1a1a" stroke-width="0.8"/>
<text x="101" y="433.3" font-size="6.2" text-anchor="end" fill="#1a1a1a" stroke="#1a1a1a" stroke-width="0.12">0</text>
<text transform="translate(89.4,421.2) rotate(-90) scale(0.63,1)" font-size="8.2" text-anchor="middle" fill="#0a0a0a" stroke="#0a0a0a" stroke-width="0.36">SNP VAF</text>
<text x="172.5" y="406.5" font-size="5.9" fill="#2a2a2a" stroke="#2a2a2a" stroke-width="0.08">Split-read analysis:</text>
<text x="210.5" y="414.5" font-size="4.9" fill="#2a2a2a" stroke="#2a2a2a" stroke-width="0.08">Intron 1</text>
<line x1="203" y1="417" x2="235.75" y2="417" stroke="#6e6e6e" stroke-width="1.1"/>
<text x="170" y="422.3" font-size="3.8" fill="#222" stroke="#222" stroke-width="0.08" textLength="66" lengthAdjust="spacingAndGlyphs">..TGATTCCTTGAGTGTTGAATACTTT..</text>
<line x1="170" y1="424.3" x2="204.5" y2="424.3" stroke="#6e6e6e" stroke-width="1.1"/>
<text x="178.75" y="429.6" font-size="4.9" fill="#2a2a2a" stroke="#2a2a2a" stroke-width="0.08">Intron 9</text>
<text x="281.8" y="310.15" font-size="10.6" fill="#000" font-weight="bold" stroke="#000" stroke-width="0.35">F</text>
<text x="413.8" y="310.8" font-size="8.88" text-anchor="middle" fill="#0d0d0d" stroke="#0d0d0d" stroke-width="0.2">Higher order tandem gain</text>
<line x1="319.75" y1="317.5" x2="319.75" y2="435" stroke="#0a0a0a" stroke-width="1.45"/>
<line x1="316.65" y1="431.25" x2="319.75" y2="431.25" stroke="#111" stroke-width="0.9"/>
<text x="314.15" y="433.75" font-size="7.7" text-anchor="end" fill="#000" stroke="#000" stroke-width="0.18">0</text>
<line x1="316.65" y1="412.78" x2="319.75" y2="412.78" stroke="#111" stroke-width="0.9"/>
<text x="314.15" y="415.28" font-size="7.7" text-anchor="end" fill="#000" stroke="#000" stroke-width="0.18">1</text>
<line x1="316.65" y1="394.31" x2="319.75" y2="394.31" stroke="#111" stroke-width="0.9"/>
<text x="314.15" y="396.81" font-size="7.7" text-anchor="end" fill="#000" stroke="#000" stroke-width="0.18">2</text>
<line x1="316.65" y1="375.84" x2="319.75" y2="375.84" stroke="#111" stroke-width="0.9"/>
<text x="314.15" y="378.34" font-size="7.7" text-anchor="end" fill="#000" stroke="#000" stroke-width="0.18">3</text>
<line x1="316.65" y1="357.37" x2="319.75" y2="357.37" stroke="#111" stroke-width="0.9"/>
<text x="314.15" y="359.87" font-size="7.7" text-anchor="end" fill="#000" stroke="#000" stroke-width="0.18">4</text>
<line x1="316.65" y1="338.9" x2="319.75" y2="338.9" stroke="#111" stroke-width="0.9"/>
<text x="314.15" y="341.4" font-size="7.7" text-anchor="end" fill="#000" stroke="#000" stroke-width="0.18">5</text>
<line x1="316.65" y1="320.43" x2="319.75" y2="320.43" stroke="#111" stroke-width="0.9"/>
<text x="314.15" y="322.93" font-size="7.7" text-anchor="end" fill="#000" stroke="#000" stroke-width="0.18">6</text>
<text transform="translate(303.6,376) rotate(-90) scale(0.76,1)" font-size="8.5" text-anchor="middle" fill="#0a0a0a" stroke="#0a0a0a" stroke-width="0.36">Total copy number</text>
<path d="M391.1 394.0h0M385.6 391.2h0M337.8 394.1h0M377.6 391.7h0M351.0 394.4h0M361.3 395.3h0M348.1 395.0h0M345.3 394.6h0M373.1 392.4h0M380.0 394.8h0M357.1 394.5h0M392.6 396.3h0M336.0 392.2h0M329.6 392.1h0M353.6 394.3h0M335.8 395.0h0M339.8 393.2h0M359.0 393.3h0M391.1 394.8h0M377.4 395.5h0M353.1 396.5h0M341.9 396.1h0M342.5 395.8h0M369.4 397.6h0M341.9 393.9h0M338.6 394.0h0M348.4 396.9h0M343.1 396.4h0M376.3 393.0h0M374.2 395.7h0M368.8 396.3h0M367.4 392.1h0M382.5 394.3h0M363.0 395.0h0M385.0 393.3h0M359.4 395.1h0M370.5 394.5h0M329.7 397.7h0M364.6 392.7h0M349.4 393.1h0M352.4 396.5h0M394.3 395.1h0M364.4 393.3h0M359.0 393.2h0M351.3 394.9h0M326.3 392.3h0M394.5 395.2h0M370.0 393.3h0M354.2 395.2h0M347.3 396.0h0M368.8 393.2h0M372.1 394.1h0M346.4 392.7h0M382.8 393.5h0M357.4 393.1h0M359.1 393.8h0M351.8 393.6h0M369.9 394.0h0M349.5 395.4h0M353.9 393.4h0M385.1 395.0h0M362.9 394.6h0M351.4 392.4h0M371.6 390.6h0M358.4 393.8h0M350.8 395.0h0M347.1 396.0h0M373.3 393.9h0M348.9 396.3h0M328.9 390.2h0M343.7 395.5h0M354.0 391.6h0M353.3 394.1h0M334.2 395.0h0M370.1 394.8h0M359.4 393.4h0M331.2 396.1h0M394.1 393.5h0M349.1 394.5h0M350.9 392.6h0M328.7 396.1h0M352.2 396.5h0M362.7 393.0h0M335.6 394.1h0M390.2 394.5h0M341.4 395.2h0M346.6 391.2h0M334.7 395.1h0M343.8 392.8h0M384.2 393.0h0M329.7 394.1h0M393.6 394.8h0M377.1 392.3h0M332.9 394.9h0M388.9 393.8h0M385.8 395.8h0M354.2 393.1h0M384.2 393.6h0M384.4 394.7h0M383.5 393.1h0M368.2 395.5h0M329.8 395.1h0M335.6 394.7h0M363.3 395.5h0M390.9 393.0h0M360.6 394.3h0M365.9 393.0h0M340.1 393.3h0M367.4 397.4h0M352.5 395.6h0M391.4 395.6h0M360.4 394.5h0M377.7 394.5h0M367.6 395.9h0M373.6 391.4h0M354.3 396.0h0M383.1 393.6h0M378.9 394.5h0M378.3 393.3h0M380.4 395.8h0M329.5 394.1h0M368.5 395.8h0M393.9 395.2h0M334.5 394.8h0M364.0 394.4h0M389.0 393.8h0M351.0 394.6h0M389.6 393.7h0M349.3 394.9h0M383.3 394.7h0M330.8 392.7h0M336.8 393.0h0M330.7 394.2h0M374.7 392.3h0M383.4 394.2h0M382.3 397.3h0M385.8 394.0h0M334.2 393.7h0M375.2 395.0h0M367.2 393.3h0M343.3 396.6h0M395.1 389.7h0M383.5 390.8h0M375.7 393.6h0M372.8 393.7h0M344.2 399.2h0M353.7 396.1h0M393.2 393.7h0M339.4 394.6h0M340.5 395.0h0M359.8 396.5h0M382.8 396.2h0M334.3 392.8h0M356.7 392.9h0M330.8 392.2h0M389.8 393.6h0M364.1 395.5h0M326.0 396.9h0M359.4 391.2h0M381.5 393.7h0M376.7 393.2h0M328.4 395.3h0M362.1 394.2h0M331.1 393.8h0M394.1 393.5h0M378.0 393.3h0M353.8 394.8h0M335.9 393.8h0M388.9 395.3h0M382.2 397.8h0M368.1 395.4h0M379.4 393.7h0M331.5 393.5h0M374.3 395.6h0M334.0 392.0h0M389.2 394.8h0M361.4 393.7h0M393.9 395.4h0M356.0 394.8h0M362.1 396.4h0M380.9 396.4h0M371.1 397.0h0M376.1 397.7h0M361.9 394.9h0M345.2 392.1h0M392.1 392.6h0M335.7 395.3h0M377.7 391.5h0M336.2 394.0h0M389.3 395.0h0M347.9 390.1h0M383.3 391.6h0M346.6 395.5h0M334.0 392.2h0M334.9 394.9h0M349.6 393.8h0M392.2 394.4h0M388.9 393.7h0M393.7 392.1h0M368.1 396.7h0M329.1 391.9h0M338.6 395.8h0M393.2 394.7h0M366.4 395.6h0M361.1 393.3h0M361.4 394.4h0M328.4 393.3h0M332.7 392.0h0M384.8 392.9h0M340.0 395.0h0M363.7 395.5h0M358.6 392.5h0M372.8 394.1h0M376.6 396.4h0M366.2 392.6h0M391.7 392.4h0M359.7 394.4h0M367.4 394.6h0M329.3 394.2h0M352.7 394.4h0M372.5 392.9h0M389.4 393.0h0M366.7 394.1h0M354.4 395.5h0M360.1 395.8h0M347.8 397.0h0M348.6 393.5h0M332.4 393.8h0M373.9 395.1h0M343.2 393.5h0M392.6 395.6h0M353.4 392.9h0M346.6 396.4h0M353.8 393.2h0M378.4 394.1h0M328.9 393.5h0M373.2 395.7h0M363.0 398.5h0M359.4 393.4h0M335.5 394.7h0M366.8 393.3h0M334.2 394.4h0M387.3 394.7h0M330.8 393.1h0M380.6 392.0h0M368.0 395.6h0M347.0 393.9h0M382.3 395.3h0M384.5 395.2h0M327.3 391.8h0M345.2 393.6h0M332.6 393.5h0M388.4 393.8h0M375.4 394.6h0M348.5 394.2h0M387.9 396.5h0M359.0 392.8h0M334.0 395.5h0M363.8 396.8h0M359.1 394.0h0M393.6 397.1h0M377.8 394.5h0M342.7 392.5h0M388.6 392.9h0M377.2 390.9h0M384.0 394.3h0M367.3 397.0h0M383.0 394.9h0M358.7 393.2h0M389.6 397.8h0M380.1 396.5h0M387.1 395.0h0M359.4 395.3h0M368.7 392.7h0M333.8 392.7h0M377.6 394.5h0M370.3 391.6h0M395.4 396.7h0M393.0 393.8h0M360.8 393.9h0M371.3 394.9h0M332.9 394.7h0M326.0 392.8h0M378.8 394.5h0M379.6 391.9h0M362.5 395.2h0M366.2 392.9h0M342.8 395.2h0M356.9 394.6h0M336.3 394.4h0M341.0 395.8h0M394.3 395.0h0M370.5 393.0h0M327.7 394.1h0M345.5 393.3h0M387.6 393.6h0M331.0 394.8h0M341.9 396.4h0M351.8 393.6h0M347.8 393.1h0M328.3 392.3h0M363.0 392.9h0M343.9 393.6h0M370.8 396.6h0M327.5 395.7h0M389.0 396.1h0M392.2 394.1h0M371.5 393.4h0M392.2 394.1h0M355.8 395.6h0M348.4 392.6h0M343.2 395.1h0M359.3 393.7h0M378.1 396.8h0M382.8 393.9h0M353.3 395.5h0M347.2 395.0h0M328.7 393.6h0M342.4 393.4h0M349.0 395.0h0M359.0 393.8h0M329.8 392.0h0M347.6 394.0h0M349.7 395.6h0M374.4 394.4h0M372.4 394.0h0M345.9 393.4h0M348.9 394.7h0M330.8 393.7h0M384.7 395.0h0M350.7 395.3h0M348.1 396.5h0M339.9 391.5h0M377.4 394.3h0M363.8 394.0h0M356.4 394.1h0M391.8 394.5h0M356.5 394.8h0M371.7 391.3h0M382.4 392.8h0M336.5 393.4h0M394.0 398.4h0M368.9 393.7h0M332.0 394.1h0M391.0 391.9h0M351.6 392.4h0M354.1 393.1h0M362.2 392.4h0M348.6 391.0h0M350.4 394.8h0M378.8 397.3h0M344.3 393.7h0M363.8 391.9h0M355.4 395.3h0M338.1 393.9h0M369.3 393.3h0M371.6 393.7h0M359.8 393.3h0M375.6 394.1h0M339.4 393.2h0M384.7 396.6h0M338.8 393.5h0M378.6 393.0h0M376.7 396.9h0M344.1 396.7h0M387.6 395.7h0M347.3 392.1h0M393.6 393.5h0M388.7 396.0h0M373.4 393.1h0M395.4 394.7h0M362.7 394.9h0M386.0 392.4h0M356.8 395.5h0M371.6 396.0h0M369.1 392.7h0M353.6 391.6h0M376.1 393.4h0M329.4 394.8h0M343.0 395.3h0M349.7 397.5h0M350.1 393.7h0M371.7 397.0h0M334.4 394.9h0M333.7 393.9h0M346.0 392.4h0M385.7 394.5h0M392.4 394.6h0M328.7 392.9h0M332.2 393.8h0M332.8 394.4h0M344.4 394.5h0M344.8 396.4h0M360.2 395.6h0M387.4 394.9h0M346.6 394.3h0M361.2 396.4h0M328.5 394.3h0M390.9 395.8h0M332.6 394.1h0M379.1 395.0h0M344.8 390.4h0M370.7 395.8h0M394.3 391.9h0M344.7 392.3h0M357.3 393.4h0M334.9 393.2h0M376.8 394.2h0M358.0 395.6h0M381.3 395.6h0M353.1 393.9h0M376.1 391.1h0M390.3 393.1h0M380.5 391.6h0M372.3 395.9h0M339.1 393.6h0M340.7 396.8h0M384.7 393.9h0M346.1 394.9h0M359.1 394.2h0M347.9 395.5h0M355.6 395.4h0M344.7 396.5h0M349.1 397.7h0M367.6 391.4h0M360.7 393.4h0M363.6 393.8h0M375.7 388.8h0M389.6 394.7h0M342.9 394.2h0M348.2 393.4h0M379.4 395.5h0M387.2 393.1h0M374.2 393.2h0M392.9 394.6h0M376.9 397.2h0M363.0 394.9h0M330.9 395.2h0M371.4 396.5h0M350.3 393.5h0M331.8 393.3h0M395.3 395.6h0M365.2 396.8h0M377.4 392.0h0M376.3 396.6h0M359.5 393.1h0M367.5 395.2h0M345.5 392.6h0M385.0 394.4h0M335.2 392.5h0M344.5 395.1h0M385.9 395.0h0M363.3 391.1h0M341.6 394.3h0M373.8 389.0h0M374.7 394.9h0M386.6 393.5h0M394.4 395.8h0M344.1 395.4h0M390.0 396.8h0M382.5 397.1h0M367.7 391.8h0M341.3 391.9h0M333.1 395.5h0M387.7 393.5h0M365.6 392.2h0M366.0 394.1h0M347.9 392.9h0M353.0 391.2h0M392.3 393.1h0M495.5 395.5h0M462.8 394.7h0M455.3 392.4h0M461.3 394.2h0M466.0 393.5h0M470.1 394.4h0M502.6 391.6h0M411.3 394.7h0M437.2 393.1h0M478.7 395.8h0M473.6 397.0h0M464.0 395.3h0M496.7 393.7h0M449.3 391.7h0M464.1 393.5h0M453.0 393.4h0M468.1 391.2h0M437.9 396.5h0M498.1 394.2h0M506.2 392.1h0M478.3 396.6h0M497.3 395.0h0M470.9 395.5h0M434.0 394.5h0M435.2 397.3h0M445.3 393.8h0M495.7 395.1h0M459.2 393.8h0M445.6 394.0h0M459.7 395.1h0M455.4 394.0h0M481.2 393.1h0M449.1 394.0h0M415.7 396.4h0M471.4 396.3h0M496.1 394.3h0M410.5 391.7h0M484.1 393.9h0M447.4 392.3h0M453.3 396.0h0M444.9 397.7h0M502.1 390.3h0M446.4 393.4h0M438.2 395.6h0M441.8 395.2h0M429.3 393.0h0M489.5 393.3h0M444.0 395.3h0M505.7 394.7h0M423.6 393.8h0M451.6 395.4h0M460.4 392.7h0M465.2 396.1h0M479.7 393.8h0M446.1 395.0h0M445.0 393.0h0M491.1 389.3h0M463.9 394.3h0M490.0 396.0h0M486.0 394.9h0M431.5 395.5h0M505.8 394.2h0M414.8 394.3h0M438.2 392.5h0M500.8 394.9h0M457.1 395.5h0M457.8 396.1h0M474.4 394.2h0M434.2 396.7h0M455.0 393.9h0M464.1 395.1h0M453.0 395.1h0M459.1 393.0h0M422.6 394.5h0M481.0 393.9h0M433.3 392.6h0M476.5 392.3h0M473.3 396.6h0M464.1 394.6h0M465.9 394.9h0M474.9 396.6h0M451.0 393.1h0M434.4 399.0h0M455.1 394.4h0M440.9 395.5h0M503.8 393.7h0M451.3 393.6h0M481.2 396.2h0M426.2 394.1h0M413.6 396.7h0M442.6 394.9h0M433.2 393.6h0M474.1 394.8h0M487.7 392.5h0M459.3 395.9h0M500.0 395.4h0M469.9 397.5h0M459.6 393.1h0M434.4 394.8h0M421.7 393.9h0M459.5 394.0h0M499.9 394.2h0M468.3 395.0h0M441.0 394.9h0M497.3 392.7h0M498.9 394.9h0M476.6 394.4h0M442.7 393.8h0M413.5 392.2h0M494.6 392.4h0M440.7 395.8h0M423.3 394.2h0M451.3 394.3h0M429.4 391.6h0M447.5 393.5h0M440.6 397.2h0M479.9 397.1h0M477.7 394.7h0M481.7 393.1h0M452.6 394.5h0M430.4 394.6h0M466.0 393.1h0M419.9 395.5h0M485.7 394.8h0M459.9 394.3h0M481.4 395.3h0M469.3 395.8h0M427.3 392.3h0M482.4 392.7h0M413.8 393.5h0M506.5 392.0h0M487.2 395.8h0M432.7 394.8h0M469.0 397.6h0M428.3 395.1h0M418.8 397.9h0M476.0 396.0h0M504.4 395.8h0M446.2 396.1h0M463.5 394.7h0M487.2 392.9h0M446.9 395.2h0M447.3 391.4h0M502.9 394.5h0M453.7 393.8h0M425.2 393.8h0M468.3 394.8h0M417.1 397.0h0M449.4 394.9h0M420.0 395.1h0M440.2 397.1h0M427.9 394.4h0M473.2 396.3h0M415.9 393.0h0M455.2 393.7h0M467.2 390.9h0M496.5 393.1h0M445.8 393.6h0M450.4 393.9h0M446.4 389.0h0M474.9 394.0h0M467.5 392.7h0M502.4 393.5h0M417.6 395.7h0M454.7 394.7h0M464.8 394.9h0M502.1 391.1h0M431.6 394.7h0M443.6 394.3h0M457.7 393.3h0M466.5 396.3h0M441.1 393.1h0M424.5 394.7h0M412.1 393.6h0M446.2 392.7h0M481.2 393.7h0M427.6 395.6h0M450.1 394.2h0M479.3 394.8h0M454.4 395.3h0M421.3 392.9h0M430.2 394.8h0M451.3 397.0h0M496.0 394.7h0M469.2 394.2h0M455.3 392.7h0M507.3 393.3h0M467.8 396.9h0M502.0 394.2h0M427.6 394.1h0M483.5 392.9h0M439.4 396.9h0M414.8 390.6h0M411.3 394.9h0M482.8 394.0h0M441.0 395.6h0M459.7 393.4h0M496.8 391.7h0M449.5 394.2h0M442.5 393.2h0M437.7 391.5h0M468.4 394.7h0M496.6 397.6h0M420.0 393.9h0M438.6 396.3h0M456.9 394.3h0M444.2 394.0h0M416.6 395.9h0M484.4 395.3h0M450.2 395.7h0M431.3 392.5h0M494.6 393.7h0M449.6 391.0h0M441.8 395.5h0M434.2 394.2h0M499.2 393.6h0M481.9 393.5h0M475.1 394.6h0M493.0 392.9h0M474.2 394.5h0M425.8 393.3h0M471.4 394.5h0M421.2 395.9h0M473.0 395.6h0M436.5 390.1h0M479.2 395.4h0M480.1 394.4h0M453.5 394.6h0M472.2 393.4h0M494.9 398.2h0M485.1 393.2h0M418.8 395.6h0M420.9 399.4h0M462.1 393.3h0M485.6 393.7h0M430.5 399.4h0M466.5 394.7h0M439.0 394.5h0M416.5 393.2h0M464.1 392.4h0M429.0 394.2h0M475.1 397.1h0M477.4 393.2h0M435.8 399.1h0M477.5 390.9h0M434.1 396.0h0M477.1 394.1h0M451.9 395.6h0M483.7 395.5h0M437.2 394.2h0M424.5 394.0h0M504.4 393.5h0M424.8 393.2h0M505.9 394.7h0M446.9 393.2h0M431.4 392.7h0M476.2 395.9h0M466.6 393.2h0M461.3 393.8h0M463.6 396.7h0M435.6 393.6h0M465.7 391.5h0M440.2 391.4h0M494.1 396.1h0M438.8 394.8h0M496.2 394.1h0M495.0 393.1h0M506.8 394.7h0M447.6 392.4h0M498.7 394.3h0M474.1 396.3h0M472.3 398.7h0M417.1 392.7h0M498.8 394.9h0M465.1 392.8h0M452.0 395.1h0M486.9 391.1h0M495.4 397.8h0M497.6 395.6h0M482.6 395.0h0M454.4 396.9h0M476.7 394.7h0M465.8 394.1h0M465.1 394.7h0M480.2 393.8h0M477.1 396.2h0M503.3 395.1h0M507.4 395.0h0M493.9 394.9h0M473.1 393.1h0M486.1 394.3h0M418.1 394.5h0M452.5 395.5h0M438.3 393.4h0M499.6 390.2h0M430.7 395.5h0M417.6 393.4h0M432.4 396.9h0M438.9 396.7h0M444.7 395.8h0M445.0 393.7h0M474.9 395.1h0M423.1 395.5h0M453.1 394.1h0M479.1 396.1h0M412.0 390.9h0M463.9 393.9h0M446.2 394.1h0M438.0 396.9h0M500.5 394.2h0M496.4 393.3h0M505.5 393.8h0M503.4 395.2h0M486.1 392.7h0M497.6 389.2h0M429.9 395.8h0M455.8 394.5h0M502.5 392.7h0M506.0 394.3h0M427.0 395.9h0M443.0 393.7h0M491.1 396.3h0M467.3 391.6h0M439.2 395.7h0M455.1 394.5h0M425.8 394.4h0M454.5 395.5h0M411.3 391.7h0M452.5 393.6h0M412.4 392.6h0M469.1 393.5h0M448.9 391.8h0M468.2 392.7h0M457.8 393.1h0M504.8 392.9h0M477.0 395.9h0M446.6 393.3h0M450.6 394.7h0M446.9 394.8h0M469.6 391.0h0M497.0 393.4h0M427.4 396.3h0M429.0 394.8h0M464.2 396.8h0M471.3 394.9h0M449.9 391.8h0M425.2 393.7h0M504.0 397.4h0M428.2 391.1h0M454.7 394.6h0M480.9 394.2h0M476.0 397.6h0M483.3 396.2h0M469.9 394.3h0M412.4 394.5h0M437.3 392.5h0M412.2 393.7h0M438.2 399.9h0M427.6 394.4h0M412.6 392.4h0M439.7 396.6h0M433.2 395.1h0M498.4 395.5h0M460.6 392.9h0M432.9 392.0h0M450.1 393.6h0M417.4 395.1h0M489.9 393.0h0M444.8 393.8h0M440.8 397.1h0M481.2 396.2h0M469.1 393.0h0M447.6 394.2h0M492.8 398.6h0M437.4 391.3h0M430.0 395.9h0M411.0 393.5h0M490.2 397.8h0M489.5 394.3h0M458.4 395.4h0M481.5 393.2h0M496.7 395.0h0M505.0 394.1h0M507.0 394.2h0M445.0 392.4h0M462.2 392.2h0M444.2 396.7h0M410.8 395.0h0M466.6 396.2h0M429.9 392.5h0M480.1 395.3h0M487.8 392.5h0M499.9 392.6h0M489.8 395.1h0M449.7 393.0h0M420.2 392.1h0M460.3 393.9h0M446.3 393.0h0M453.6 393.9h0M441.6 392.2h0M456.7 394.6h0M490.9 394.8h0M457.9 394.7h0M439.0 392.4h0M487.0 394.2h0M431.0 394.7h0M431.3 395.0h0M472.5 399.1h0M428.8 393.2h0M498.1 393.9h0M486.1 396.0h0M462.4 391.6h0M443.7 393.0h0M497.4 396.0h0M430.4 394.7h0M457.1 396.9h0M447.2 394.5h0M485.9 395.6h0M458.1 393.5h0M437.7 395.4h0M436.3 393.3h0M417.4 394.8h0M504.1 394.5h0M439.6 393.7h0M446.8 393.6h0M422.4 394.4h0M496.8 397.2h0M439.3 395.4h0M469.3 393.2h0M452.4 394.2h0M443.3 394.7h0M431.6 395.2h0M466.9 395.7h0M436.9 391.9h0M421.0 393.7h0M499.3 394.7h0M434.6 399.8h0M487.1 392.2h0M474.4 395.8h0M480.7 396.5h0M506.8 393.3h0M506.2 392.9h0M463.1 393.4h0M472.2 392.6h0M505.6 391.9h0M477.3 396.2h0M412.1 394.0h0M422.3 395.0h0M462.0 394.9h0M430.1 398.2h0M449.4 394.5h0M416.2 398.6h0M454.9 394.1h0M494.5 394.1h0M456.2 395.3h0M484.2 395.3h0M462.0 395.4h0M453.6 397.0h0M434.2 392.6h0M471.2 393.8h0M425.2 395.2h0M466.1 395.9h0M452.9 394.0h0M430.2 390.0h0M453.3 393.4h0M463.4 393.0h0M439.4 392.9h0M415.7 395.0h0M451.1 394.7h0M503.3 394.8h0M416.7 396.6h0M442.4 392.8h0M454.8 396.4h0M470.5 395.5h0M414.6 394.8h0M501.6 392.9h0M483.8 392.2h0M438.8 394.3h0M450.7 393.9h0M433.3 395.1h0M436.8 393.1h0M418.1 393.1h0M465.3 392.6h0M506.2 393.5h0M477.7 394.6h0M416.8 393.5h0M506.1 392.3h0M445.1 392.5h0M478.3 394.2h0M470.3 395.0h0M430.8 394.7h0M461.1 396.4h0M437.7 395.0h0M478.3 393.4h0M412.8 396.1h0M456.4 395.1h0M445.2 394.4h0M485.1 394.5h0M470.0 398.6h0M456.8 395.3h0M449.7 395.4h0M431.1 396.0h0M433.7 393.8h0M428.9 395.4h0M462.0 390.2h0M432.5 394.1h0M441.3 392.4h0M460.9 393.2h0M433.0 392.1h0M445.7 393.6h0M462.1 396.6h0M491.7 395.6h0M507.1 393.6h0M426.8 393.9h0M488.2 394.7h0M464.5 397.3h0M410.8 392.0h0M430.4 394.6h0M478.9 396.3h0M497.0 393.3h0M452.4 393.1h0M436.8 395.3h0M449.7 395.1h0M424.4 391.8h0M413.5 395.8h0M486.7 394.1h0M459.3 395.1h0M504.6 393.7h0M464.5 395.5h0M481.4 395.1h0M424.7 395.0h0M492.3 392.7h0M493.2 399.5h0M442.9 392.6h0M446.1 393.0h0M442.2 395.5h0M508.0 394.2h0M416.2 393.4h0M420.3 393.8h0M480.3 395.0h0M441.7 395.9h0M507.2 393.2h0M456.2 394.7h0M459.6 393.7h0M452.1 394.1h0M457.6 393.3h0M473.8 398.7h0M422.6 393.6h0M425.7 394.6h0M459.5 393.0h0M469.5 394.4h0M478.3 393.8h0M433.8 392.5h0M499.6 393.6h0M485.9 396.3h0M429.2 393.2h0M437.4 391.4h0M428.7 394.9h0M410.8 393.0h0M482.2 393.3h0M493.0 393.1h0M445.5 393.5h0M493.6 389.7h0M418.6 392.7h0M462.1 396.5h0M495.3 390.2h0M505.4 395.0h0M422.1 395.6h0M491.0 394.3h0M448.9 396.4h0M507.9 393.8h0M454.2 393.5h0M499.2 393.4h0M491.3 396.2h0M456.8 396.4h0M439.3 395.9h0M490.1 393.3h0M495.7 392.6h0M444.3 394.5h0M435.7 393.1h0M479.6 394.5h0M411.8 390.0h0M502.3 395.6h0M473.3 394.5h0M475.4 395.7h0M478.4 394.0h0M420.1 391.8h0M500.8 395.6h0M436.4 393.2h0M481.5 393.5h0M501.8 394.3h0M464.2 394.5h0M481.8 396.1h0M507.7 394.3h0M492.3 397.5h0M417.2 394.5h0M490.7 396.4h0M448.1 393.5h0M506.0 394.7h0M478.8 395.5h0M479.6 395.2h0M490.0 391.3h0M495.4 393.2h0M420.0 393.3h0M430.0 394.2h0M422.0 395.0h0M456.9 395.4h0M481.9 392.8h0M458.1 394.0h0M458.5 394.9h0M468.9 397.2h0M427.6 394.6h0M439.3 400.3h0M495.4 394.0h0M488.5 395.8h0M478.2 393.9h0M464.6 394.4h0M438.2 394.9h0M415.6 394.0h0M420.3 394.6h0M457.2 393.3h0M432.1 394.2h0M424.6 395.0h0M431.4 395.4h0M425.3 396.1h0M458.2 394.8h0M440.8 392.6h0M503.9 394.8h0M425.4 394.1h0M452.7 393.1h0M486.7 395.7h0M437.5 395.7h0M488.6 394.4h0M463.3 392.0h0M460.1 391.2h0M442.1 394.9h0M499.9 394.6h0M463.8 395.5h0M421.2 392.4h0M433.5 395.1h0M457.6 393.0h0M493.0 396.1h0M417.9 392.7h0M451.6 395.1h0M443.0 393.7h0M496.7 392.8h0M492.0 392.7h0M456.5 395.1h0M439.4 391.2h0M483.7 393.1h0M478.9 395.3h0M427.9 396.0h0M448.6 394.8h0M429.1 394.9h0M468.8 392.0h0M441.1 395.1h0M468.4 394.6h0M497.5 396.1h0M437.5 394.9h0M419.7 396.9h0M379.5 383.0h0M358.5 388.0h0M414.3 385.3h0M434.7 384.5h0M471.0 387.5h0M492.0 404.5h0M460.0 402.0h0M357.0 401.0h0M332.0 386.5h0" fill="none" stroke="#124e8a" stroke-width="2.4" stroke-linecap="round"/>
<path d="M401.4 393.3h0M399.1 393.8h0M399.0 394.8h0M403.2 396.7h0M404.8 395.0h0M403.2 393.2h0M402.0 391.3h0M402.7 393.9h0M398.6 394.7h0M406.9 392.5h0M404.9 394.3h0M401.3 393.3h0M398.9 395.8h0M402.2 396.3h0M399.5 390.5h0M402.9 392.0h0M401.0 391.9h0M399.9 394.1h0M403.3 391.4h0M402.7 393.3h0M398.7 394.3h0M397.1 393.6h0M404.1 394.6h0M405.2 391.4h0M397.8 393.2h0M397.5 390.5h0M400.7 397.2h0M401.1 395.7h0M396.4 391.9h0M403.0 392.8h0M401.0 396.1h0M402.6 390.2h0M403.0 396.8h0M396.3 393.8h0M404.2 395.3h0M402.2 392.6h0M396.5 395.6h0M396.9 391.5h0M406.2 395.0h0M402.0 392.9h0M397.6 392.9h0M397.7 391.4h0M398.3 395.1h0M404.9 391.5h0M399.5 392.6h0M405.1 394.3h0M406.5 396.8h0M398.9 393.2h0M397.3 395.7h0M405.7 394.3h0M400.5 392.3h0M405.4 393.6h0M398.0 394.1h0M401.2 392.3h0M404.8 390.6h0M403.6 392.8h0M406.6 393.4h0M400.9 395.5h0M405.4 390.6h0M396.8 395.9h0M403.6 394.8h0M403.3 394.5h0M398.0 392.5h0M398.2 392.5h0M407.0 394.2h0M398.0 387.6h0M403.5 388.0h0M399.0 401.6h0M405.5 401.3h0" fill="none" stroke="#25ab4b" stroke-width="2.4" stroke-linecap="round"/>
<path d="M409.4 392.5h0M409.4 393.1h0M408.6 393.8h0M408.8 395.0h0M409.9 395.6h0M409.0 396.5h0M408.7 397.1h0" fill="none" stroke="#cb0a32" stroke-width="2.2" stroke-linecap="round"/>
<path d="M407.9 325.3h0M408.5 327.5h0M407.4 329.6h0M408.2 331.5h0M408.6 333.6h0M407.6 335.8h0M408.1 337.7h0M407.4 339.6h0M407.9 341.6h0" fill="none" stroke="#cb0a32" stroke-width="1.9" stroke-linecap="round"/>
<line x1="320" y1="333.25" x2="514.5" y2="333.25" stroke="#111" stroke-width="0.95" stroke-dasharray="3.7 1.5"/>
<line x1="320" y1="394.31" x2="514.5" y2="394.31" stroke="#111" stroke-width="0.95" stroke-dasharray="3.7 1.5"/>
<text x="403.7" y="404.8" font-size="6.2" text-anchor="middle" fill="#1a1a1a" stroke="#1a1a1a" stroke-width="0.12">chr11</text>
<rect x="396.8" y="405.1" width="11.3" height="2.5" fill="#25ab4b"/>
<rect x="408.1" y="405.1" width="2.7" height="2.5" fill="#cb0a32"/>
<line x1="396.8" y1="407.4" x2="381.75" y2="414" stroke="#1a1a1a" stroke-width="1" stroke-dasharray="3.2 1.8"/>
<line x1="410.8" y1="407.4" x2="428.25" y2="414" stroke="#1a1a1a" stroke-width="1" stroke-dasharray="3.2 1.8"/>
<rect x="381.75" y="413.5" width="46.5" height="19.4" fill="#fff" stroke="#111" stroke-width="1"/>
<path d="M414.3 432.7h0M412.6 432.5h0M390.0 432.7h0M417.8 432.4h0M391.8 432.6h0M413.0 432.8h0M424.1 432.4h0M388.2 432.4h0M386.4 432.2h0M426.0 432.7h0M394.3 432.4h0M418.4 432.9h0M409.6 432.7h0M425.0 432.8h0M415.2 432.5h0M383.3 432.7h0M392.9 432.7h0M392.5 432.7h0M390.6 432.2h0M407.7 432.3h0M394.2 432.7h0M383.6 432.4h0M398.9 432.8h0M416.8 432.3h0M416.6 432.8h0M386.3 432.4h0M408.3 432.2h0M401.0 432.5h0M403.4 432.4h0M415.4 432.4h0M395.8 432.7h0M417.5 432.8h0M422.6 432.8h0M407.4 432.7h0M408.2 432.4h0M388.0 432.4h0M384.3 432.5h0M407.1 432.8h0M393.0 432.7h0M422.9 432.3h0M388.6 432.7h0M400.3 432.6h0M391.0 432.8h0M394.4 432.9h0M392.9 432.4h0M388.1 432.5h0M402.9 432.5h0M394.2 432.5h0M421.9 432.7h0M419.6 432.7h0M391.6 432.6h0M410.5 432.4h0M424.0 432.2h0M424.5 432.5h0M411.5 432.3h0M413.1 432.8h0M403.3 432.8h0M427.0 432.3h0M413.2 432.3h0M385.9 432.8h0M419.3 432.5h0M416.3 432.8h0M422.0 432.8h0M410.5 432.4h0M388.7 432.2h0M422.3 432.8h0M384.7 432.6h0M402.0 432.7h0M389.2 432.7h0M392.7 432.4h0M390.2 432.6h0M427.1 432.7h0M424.2 432.6h0M383.6 432.7h0M398.1 432.8h0M399.0 432.4h0M402.3 432.7h0M419.6 432.3h0M388.1 432.4h0M391.5 432.6h0M416.5 432.6h0M401.9 432.6h0M409.2 432.3h0M399.7 432.4h0M425.5 432.2h0M400.5 432.6h0M391.4 432.6h0M415.8 432.3h0M386.9 432.7h0M396.7 432.6h0M415.3 432.8h0M383.8 432.7h0M421.5 432.6h0M402.6 432.6h0M391.8 432.8h0M385.2 432.6h0M396.6 432.8h0M396.1 432.3h0M411.2 432.2h0M423.3 432.8h0M416.4 432.7h0M392.9 432.5h0M382.6 432.6h0M385.2 432.7h0M416.2 432.4h0M410.1 432.5h0M416.5 432.4h0M403.1 432.8h0M404.4 432.7h0M396.6 432.4h0M417.7 432.3h0M384.9 432.5h0M413.9 432.5h0M418.2 432.9h0M407.8 432.3h0M391.0 432.6h0M422.2 432.5h0M422.7 432.4h0M384.4 432.4h0M411.7 432.8h0M398.7 432.5h0M386.1 432.6h0M418.2 432.5h0M400.6 432.7h0M416.2 432.5h0M415.4 432.4h0M408.5 432.4h0M388.0 432.7h0M406.4 432.4h0M401.5 432.7h0M415.2 432.5h0M397.4 432.7h0M425.0 432.2h0M409.4 432.6h0M389.8 432.5h0M415.5 432.3h0M404.5 432.9h0M414.3 432.4h0M386.1 432.3h0M410.3 432.3h0M401.2 432.6h0M400.8 432.5h0M411.7 432.4h0M382.7 432.3h0M410.3 432.7h0M391.2 432.9h0M397.3 432.9h0M398.8 432.3h0M408.3 432.5h0M415.6 432.8h0M399.7 432.9h0M419.8 432.5h0M393.4 432.6h0M418.6 432.9h0M405.1 432.5h0M417.4 432.3h0M391.9 432.8h0M419.6 432.2h0M408.9 432.7h0M396.7 432.9h0M389.4 432.8h0M409.3 432.2h0M420.9 432.7h0M394.9 432.9h0M390.1 432.2h0M402.7 432.6h0M387.6 432.4h0M412.8 432.6h0M399.1 432.6h0M383.3 432.2h0M397.0 432.5h0M383.8 432.7h0M412.4 432.8h0M417.9 432.4h0M385.0 432.8h0M417.6 432.4h0M391.4 432.7h0M397.5 432.9h0M392.0 432.2h0M404.5 432.5h0M423.6 432.6h0M424.9 432.6h0M389.2 432.8h0M422.2 432.3h0M413.7 432.8h0M422.3 432.5h0M399.2 432.8h0M424.2 432.9h0M410.0 432.7h0M395.9 432.7h0M409.4 432.7h0M426.8 432.3h0M424.0 432.5h0M395.7 432.4h0M412.7 432.2h0M419.5 432.6h0M383.3 432.5h0M409.7 432.7h0M425.4 432.2h0M417.8 432.6h0M412.0 432.5h0M389.8 432.6h0M384.7 432.3h0M384.7 432.4h0M398.7 432.9h0M404.3 432.5h0M388.9 432.9h0M410.9 432.7h0M416.4 432.7h0M427.6 432.2h0M386.4 432.2h0M408.3 432.7h0M388.5 432.7h0M420.5 432.2h0M420.3 432.7h0M396.0 432.3h0M396.4 432.4h0M388.0 432.6h0M404.4 432.7h0M412.4 432.3h0M412.9 432.8h0M410.6 432.3h0M421.4 432.7h0M384.2 432.9h0M405.8 432.7h0M385.6 432.2h0M384.9 432.2h0M385.2 432.8h0M423.5 432.3h0M384.9 432.3h0" fill="none" stroke="#25ab4b" stroke-width="1.6" stroke-linecap="round"/>
<path d="M393.3 414.9h0M405.3 414.6h0M384.9 414.9h0M419.0 415.1h0M397.5 414.8h0M415.5 414.9h0M386.8 415.0h0M407.9 415.1h0M407.5 414.6h0M407.5 414.9h0M417.9 414.8h0M392.4 415.0h0M405.5 414.5h0M409.8 414.9h0M406.8 415.0h0M404.4 414.9h0M397.6 415.0h0M393.9 415.1h0M407.3 414.9h0M419.5 414.5h0M421.4 414.8h0M396.6 414.5h0M393.6 414.8h0M415.9 414.7h0M385.9 415.1h0M386.0 415.1h0M398.3 414.5h0M415.9 415.0h0M422.1 415.0h0M386.7 414.6h0M384.9 414.6h0M417.6 414.6h0M408.6 414.8h0M383.2 414.7h0M384.4 414.8h0M394.5 415.1h0M382.7 414.9h0M423.5 414.6h0M414.1 414.9h0M409.1 414.9h0M408.3 414.8h0M398.1 414.5h0M383.4 414.9h0M382.8 414.5h0M407.5 414.7h0M382.5 414.8h0M383.1 414.6h0M424.2 414.6h0M386.0 415.0h0M407.9 414.8h0M399.1 414.7h0M384.1 414.6h0M399.9 414.7h0M400.7 414.5h0M407.2 414.7h0M404.6 415.1h0M392.1 414.8h0M413.3 414.8h0M408.1 414.8h0M383.4 415.0h0" fill="none" stroke="#25ab4b" stroke-width="1.5" stroke-linecap="round"/>
<path d="M392.0 422.0h0M392.0 422.1h0M392.0 422.0h0" fill="none" stroke="#25ab4b" stroke-width="1.9" stroke-linecap="round"/>
<line x1="378.45" y1="414" x2="381.75" y2="414" stroke="#1a1a1a" stroke-width="0.8"/>
<text x="375.75" y="416.3" font-size="6.2" text-anchor="end" fill="#1a1a1a" stroke="#1a1a1a" stroke-width="0.12">1</text>
<line x1="378.45" y1="423.3" x2="381.75" y2="423.3" stroke="#1a1a1a" stroke-width="0.8"/>
<text x="375.75" y="425.6" font-size="6.2" text-anchor="end" fill="#1a1a1a" stroke="#1a1a1a" stroke-width="0.12">0.5</text>
<line x1="378.45" y1="432.6" x2="381.75" y2="432.6" stroke="#1a1a1a" stroke-width="0.8"/>
<text x="375.75" y="434.9" font-size="6.2" text-anchor="end" fill="#1a1a1a" stroke="#1a1a1a" stroke-width="0.12">0</text>
<text transform="translate(363.8,424) rotate(-90) scale(0.63,1)" font-size="8.2" text-anchor="middle" fill="#0a0a0a" stroke="#0a0a0a" stroke-width="0.36">SNP VAF</text>
<text x="432" y="361.5" font-size="5.9" fill="#2a2a2a" stroke="#2a2a2a" stroke-width="0.08">Split-read analysis:</text>
<text x="389.4" y="368.2" font-size="4.9" fill="#2a2a2a" stroke="#2a2a2a" stroke-width="0.08">Intron 8</text>
<line x1="355" y1="370.5" x2="440.75" y2="370.5" stroke="#505050" stroke-width="0.9"/>
<text x="355" y="374.6" font-size="3.3" fill="#3a3a3a" stroke="#3a3a3a" stroke-width="0" textLength="146" lengthAdjust="spacingAndGlyphs">..AAACTTCAAGTTTAGGCTTTTAGCTGGGCACGGTGGCTCACGCCTGTAATCCCAGCACTTTGGGAAGCCAAGGT..</text>
<line x1="416.5" y1="376.5" x2="501.75" y2="376.5" stroke="#505050" stroke-width="0.9"/>
<text x="450.5" y="382.3" font-size="4.9" fill="#2a2a2a" stroke="#2a2a2a" stroke-width="0.08">Intron 1</text>
<path d="M0,0H520V442H0Z M1.1,0.95V441.05H519.2V0.95Z" fill="#000" fill-rule="evenodd"/>
</svg>
</body>
</html>
